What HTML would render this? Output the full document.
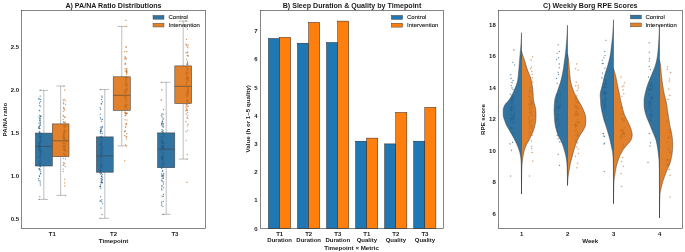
<!DOCTYPE html>
<html><head><meta charset="utf-8"><title>Figure</title>
<style>
html,body{margin:0;padding:0;background:#fff;}
svg{display:block;will-change:transform;font-family:"Liberation Sans",sans-serif;}
.pb,.po{fill-opacity:.8;stroke:#444;stroke-width:.2;stroke-opacity:.55}.pb{fill:#1f77b4}.po{fill:#ff7f0e}
</style></head>
<body>
<svg width="685" height="252" viewBox="0 0 685 252">
<rect width="685" height="252" fill="#fff"/>
<path d="M43.849999999999994 133.1V90.3M43.849999999999994 166.0V199.4M39.55 90.3H48.14999999999999M39.55 199.4H48.14999999999999" stroke="#5a5a5a" stroke-width="0.4" fill="none"/>
<rect x="35.4" y="133.1" width="16.9" height="32.900000000000006" fill="#3274a1" stroke="#3d3d3d" stroke-width="0.55"/>
<path d="M35.4 146.4H52.3" stroke="#3d3d3d" stroke-width="0.55"/>
<path d="M60.65 123.9V86.0M60.65 156.7V195.4M56.35 86.0H64.95M56.35 195.4H64.95" stroke="#5a5a5a" stroke-width="0.4" fill="none"/>
<rect x="52.3" y="123.9" width="16.700000000000003" height="32.79999999999998" fill="#e1812c" stroke="#3d3d3d" stroke-width="0.55"/>
<path d="M52.3 140.8H69.0" stroke="#3d3d3d" stroke-width="0.55"/>
<path d="M104.80000000000001 136.9V89.5M104.80000000000001 172.2V218.3M100.50000000000001 89.5H109.10000000000001M100.50000000000001 218.3H109.10000000000001" stroke="#5a5a5a" stroke-width="0.4" fill="none"/>
<rect x="96.4" y="136.9" width="16.799999999999997" height="35.29999999999998" fill="#3274a1" stroke="#3d3d3d" stroke-width="0.55"/>
<path d="M96.4 155.9H113.2" stroke="#3d3d3d" stroke-width="0.55"/>
<path d="M121.75 76.8V26.4M121.75 110.4V145.9M117.45 26.4H126.05M117.45 145.9H126.05" stroke="#5a5a5a" stroke-width="0.4" fill="none"/>
<rect x="113.2" y="76.8" width="17.10000000000001" height="33.60000000000001" fill="#e1812c" stroke="#3d3d3d" stroke-width="0.55"/>
<path d="M113.2 95.3H130.3" stroke="#3d3d3d" stroke-width="0.55"/>
<path d="M166.2 132.9V82.3M166.2 167.7V214.3M161.89999999999998 82.3H170.5M161.89999999999998 214.3H170.5" stroke="#5a5a5a" stroke-width="0.4" fill="none"/>
<rect x="157.6" y="132.9" width="17.200000000000017" height="34.79999999999998" fill="#3274a1" stroke="#3d3d3d" stroke-width="0.55"/>
<path d="M157.6 149.1H174.8" stroke="#3d3d3d" stroke-width="0.55"/>
<path d="M183.2 65.9V21.1M183.2 103.5V159.1M178.89999999999998 21.1H187.5M178.89999999999998 159.1H187.5" stroke="#5a5a5a" stroke-width="0.4" fill="none"/>
<rect x="174.8" y="65.9" width="16.799999999999983" height="37.599999999999994" fill="#e1812c" stroke="#3d3d3d" stroke-width="0.55"/>
<path d="M174.8 86.3H191.6" stroke="#3d3d3d" stroke-width="0.55"/>
<circle class="pb" cx="39.0" cy="148.0" r=".55"/>
<circle class="pb" cx="40.9" cy="155.3" r=".55"/>
<circle class="pb" cx="40.1" cy="141.3" r=".55"/>
<circle class="pb" cx="39.4" cy="126.3" r=".55"/>
<circle class="pb" cx="41.0" cy="136.9" r=".55"/>
<circle class="pb" cx="39.0" cy="123.8" r=".55"/>
<circle class="pb" cx="39.9" cy="149.4" r=".55"/>
<circle class="pb" cx="38.8" cy="180.6" r=".55"/>
<circle class="pb" cx="41.0" cy="136.0" r=".55"/>
<circle class="pb" cx="40.1" cy="132.9" r=".55"/>
<circle class="pb" cx="40.6" cy="159.9" r=".55"/>
<circle class="pb" cx="39.3" cy="156.7" r=".55"/>
<circle class="pb" cx="40.6" cy="150.5" r=".55"/>
<circle class="pb" cx="40.4" cy="125.3" r=".55"/>
<circle class="pb" cx="40.2" cy="147.3" r=".55"/>
<circle class="pb" cx="41.0" cy="164.9" r=".55"/>
<circle class="pb" cx="39.7" cy="115.2" r=".55"/>
<circle class="pb" cx="39.7" cy="136.8" r=".55"/>
<circle class="pb" cx="40.4" cy="101.6" r=".55"/>
<circle class="pb" cx="40.7" cy="116.5" r=".55"/>
<circle class="pb" cx="39.5" cy="103.1" r=".55"/>
<circle class="pb" cx="40.3" cy="142.2" r=".55"/>
<circle class="pb" cx="39.1" cy="117.1" r=".55"/>
<circle class="pb" cx="40.0" cy="154.6" r=".55"/>
<circle class="pb" cx="40.5" cy="151.8" r=".55"/>
<circle class="pb" cx="38.8" cy="143.4" r=".55"/>
<circle class="pb" cx="40.4" cy="134.8" r=".55"/>
<circle class="pb" cx="38.7" cy="146.8" r=".55"/>
<circle class="pb" cx="41.0" cy="150.7" r=".55"/>
<circle class="pb" cx="39.8" cy="110.7" r=".55"/>
<circle class="pb" cx="39.6" cy="136.3" r=".55"/>
<circle class="pb" cx="40.4" cy="124.1" r=".55"/>
<circle class="pb" cx="39.9" cy="128.3" r=".55"/>
<circle class="pb" cx="40.4" cy="173.8" r=".55"/>
<circle class="pb" cx="38.8" cy="128.3" r=".55"/>
<circle class="pb" cx="40.0" cy="147.2" r=".55"/>
<circle class="pb" cx="40.0" cy="169.5" r=".55"/>
<circle class="pb" cx="41.0" cy="133.8" r=".55"/>
<circle class="pb" cx="38.7" cy="145.3" r=".55"/>
<circle class="pb" cx="39.8" cy="150.7" r=".55"/>
<circle class="pb" cx="40.2" cy="149.5" r=".55"/>
<circle class="pb" cx="40.0" cy="118.1" r=".55"/>
<circle class="pb" cx="38.8" cy="149.8" r=".55"/>
<circle class="pb" cx="40.1" cy="181.1" r=".55"/>
<circle class="pb" cx="39.2" cy="110.3" r=".55"/>
<circle class="pb" cx="39.1" cy="168.9" r=".55"/>
<circle class="pb" cx="40.8" cy="150.9" r=".55"/>
<circle class="pb" cx="39.1" cy="132.3" r=".55"/>
<circle class="pb" cx="39.8" cy="196.7" r=".55"/>
<circle class="pb" cx="40.5" cy="166.6" r=".55"/>
<circle class="pb" cx="40.4" cy="118.7" r=".55"/>
<circle class="pb" cx="40.0" cy="149.8" r=".55"/>
<circle class="pb" cx="40.6" cy="162.0" r=".55"/>
<circle class="pb" cx="39.8" cy="143.4" r=".55"/>
<circle class="pb" cx="40.2" cy="164.6" r=".55"/>
<circle class="pb" cx="40.7" cy="146.4" r=".55"/>
<circle class="pb" cx="40.3" cy="164.2" r=".55"/>
<circle class="pb" cx="40.2" cy="183.0" r=".55"/>
<circle class="pb" cx="39.6" cy="131.5" r=".55"/>
<circle class="pb" cx="40.0" cy="152.9" r=".55"/>
<circle class="pb" cx="39.6" cy="136.7" r=".55"/>
<circle class="pb" cx="40.5" cy="151.1" r=".55"/>
<circle class="pb" cx="39.6" cy="119.0" r=".55"/>
<circle class="pb" cx="39.8" cy="133.9" r=".55"/>
<circle class="pb" cx="40.5" cy="143.2" r=".55"/>
<circle class="pb" cx="39.9" cy="169.9" r=".55"/>
<circle class="pb" cx="39.5" cy="175.9" r=".55"/>
<circle class="pb" cx="40.7" cy="115.7" r=".55"/>
<circle class="pb" cx="39.6" cy="128.6" r=".55"/>
<circle class="pb" cx="40.7" cy="163.7" r=".55"/>
<circle class="pb" cx="40.6" cy="99.4" r=".55"/>
<circle class="pb" cx="39.7" cy="136.7" r=".55"/>
<circle class="pb" cx="40.4" cy="145.6" r=".55"/>
<circle class="pb" cx="38.7" cy="178.6" r=".55"/>
<circle class="pb" cx="39.6" cy="164.8" r=".55"/>
<circle class="pb" cx="40.8" cy="140.0" r=".55"/>
<circle class="pb" cx="40.1" cy="139.0" r=".55"/>
<circle class="pb" cx="40.0" cy="141.9" r=".55"/>
<circle class="pb" cx="40.3" cy="185.1" r=".55"/>
<circle class="pb" cx="40.3" cy="137.5" r=".55"/>
<circle class="pb" cx="40.1" cy="140.6" r=".55"/>
<circle class="pb" cx="39.7" cy="156.6" r=".55"/>
<circle class="pb" cx="39.1" cy="145.0" r=".55"/>
<circle class="pb" cx="39.4" cy="143.2" r=".55"/>
<circle class="pb" cx="39.4" cy="120.8" r=".55"/>
<circle class="pb" cx="39.7" cy="147.7" r=".55"/>
<circle class="pb" cx="41.1" cy="137.2" r=".55"/>
<circle class="pb" cx="39.5" cy="176.4" r=".55"/>
<circle class="pb" cx="39.7" cy="163.9" r=".55"/>
<circle class="pb" cx="39.5" cy="147.4" r=".55"/>
<circle class="pb" cx="40.1" cy="164.3" r=".55"/>
<circle class="pb" cx="41.0" cy="139.7" r=".55"/>
<circle class="pb" cx="40.8" cy="173.6" r=".55"/>
<circle class="pb" cx="39.6" cy="147.8" r=".55"/>
<circle class="pb" cx="39.3" cy="162.2" r=".55"/>
<circle class="pb" cx="40.8" cy="116.5" r=".55"/>
<circle class="pb" cx="39.9" cy="156.4" r=".55"/>
<circle class="pb" cx="40.3" cy="106.8" r=".55"/>
<circle class="pb" cx="38.8" cy="98.4" r=".55"/>
<circle class="pb" cx="40.8" cy="140.6" r=".55"/>
<circle class="pb" cx="39.4" cy="126.0" r=".55"/>
<circle class="pb" cx="39.9" cy="152.0" r=".55"/>
<circle class="pb" cx="39.1" cy="127.7" r=".55"/>
<circle class="pb" cx="39.7" cy="132.8" r=".55"/>
<circle class="pb" cx="40.7" cy="153.0" r=".55"/>
<circle class="pb" cx="40.7" cy="160.0" r=".55"/>
<circle class="pb" cx="39.8" cy="143.7" r=".55"/>
<circle class="pb" cx="40.5" cy="143.0" r=".55"/>
<circle class="pb" cx="39.8" cy="165.1" r=".55"/>
<circle class="pb" cx="39.6" cy="160.6" r=".55"/>
<circle class="pb" cx="40.0" cy="122.8" r=".55"/>
<circle class="pb" cx="39.1" cy="146.0" r=".55"/>
<circle class="pb" cx="39.4" cy="148.8" r=".55"/>
<circle class="pb" cx="40.4" cy="122.3" r=".55"/>
<circle class="pb" cx="40.5" cy="154.3" r=".55"/>
<circle class="pb" cx="38.8" cy="127.1" r=".55"/>
<circle class="pb" cx="40.5" cy="171.7" r=".55"/>
<circle class="pb" cx="40.7" cy="152.7" r=".55"/>
<circle class="pb" cx="39.7" cy="150.2" r=".55"/>
<circle class="pb" cx="38.8" cy="133.6" r=".55"/>
<circle class="pb" cx="40.3" cy="145.1" r=".55"/>
<circle class="pb" cx="39.2" cy="99.3" r=".55"/>
<circle class="pb" cx="40.2" cy="120.4" r=".55"/>
<circle class="pb" cx="39.6" cy="156.8" r=".55"/>
<circle class="pb" cx="40.2" cy="96.1" r=".55"/>
<circle class="pb" cx="39.3" cy="168.6" r=".55"/>
<circle class="pb" cx="39.8" cy="105.4" r=".55"/>
<circle class="pb" cx="39.9" cy="166.4" r=".55"/>
<circle class="pb" cx="40.2" cy="90.3" r=".55"/>
<circle class="pb" cx="39.1" cy="199.4" r=".55"/>
<circle class="po" cx="64.8" cy="185.9" r=".55"/>
<circle class="po" cx="63.7" cy="137.2" r=".55"/>
<circle class="po" cx="63.5" cy="121.9" r=".55"/>
<circle class="po" cx="65.0" cy="139.0" r=".55"/>
<circle class="po" cx="65.1" cy="125.8" r=".55"/>
<circle class="po" cx="64.0" cy="122.5" r=".55"/>
<circle class="po" cx="64.8" cy="139.1" r=".55"/>
<circle class="po" cx="63.3" cy="115.2" r=".55"/>
<circle class="po" cx="64.2" cy="155.3" r=".55"/>
<circle class="po" cx="64.7" cy="138.0" r=".55"/>
<circle class="po" cx="63.9" cy="146.6" r=".55"/>
<circle class="po" cx="64.1" cy="136.1" r=".55"/>
<circle class="po" cx="64.7" cy="122.9" r=".55"/>
<circle class="po" cx="64.7" cy="117.5" r=".55"/>
<circle class="po" cx="63.6" cy="134.8" r=".55"/>
<circle class="po" cx="65.0" cy="127.2" r=".55"/>
<circle class="po" cx="63.4" cy="146.2" r=".55"/>
<circle class="po" cx="65.6" cy="140.4" r=".55"/>
<circle class="po" cx="63.7" cy="107.5" r=".55"/>
<circle class="po" cx="63.9" cy="142.2" r=".55"/>
<circle class="po" cx="63.7" cy="107.9" r=".55"/>
<circle class="po" cx="65.7" cy="125.6" r=".55"/>
<circle class="po" cx="63.9" cy="133.4" r=".55"/>
<circle class="po" cx="64.7" cy="90.1" r=".55"/>
<circle class="po" cx="65.7" cy="142.8" r=".55"/>
<circle class="po" cx="65.6" cy="144.2" r=".55"/>
<circle class="po" cx="63.3" cy="136.7" r=".55"/>
<circle class="po" cx="64.5" cy="130.2" r=".55"/>
<circle class="po" cx="64.7" cy="131.5" r=".55"/>
<circle class="po" cx="65.0" cy="116.8" r=".55"/>
<circle class="po" cx="64.1" cy="134.0" r=".55"/>
<circle class="po" cx="64.0" cy="127.1" r=".55"/>
<circle class="po" cx="63.2" cy="142.8" r=".55"/>
<circle class="po" cx="63.3" cy="111.3" r=".55"/>
<circle class="po" cx="64.6" cy="146.3" r=".55"/>
<circle class="po" cx="63.4" cy="144.0" r=".55"/>
<circle class="po" cx="63.7" cy="137.1" r=".55"/>
<circle class="po" cx="64.1" cy="129.9" r=".55"/>
<circle class="po" cx="63.4" cy="154.0" r=".55"/>
<circle class="po" cx="63.3" cy="100.1" r=".55"/>
<circle class="po" cx="65.5" cy="151.7" r=".55"/>
<circle class="po" cx="64.3" cy="146.5" r=".55"/>
<circle class="po" cx="63.7" cy="147.4" r=".55"/>
<circle class="po" cx="65.0" cy="149.9" r=".55"/>
<circle class="po" cx="63.2" cy="124.7" r=".55"/>
<circle class="po" cx="63.8" cy="134.2" r=".55"/>
<circle class="po" cx="65.6" cy="156.0" r=".55"/>
<circle class="po" cx="65.5" cy="151.0" r=".55"/>
<circle class="po" cx="64.8" cy="145.6" r=".55"/>
<circle class="po" cx="63.5" cy="103.8" r=".55"/>
<circle class="po" cx="64.0" cy="153.6" r=".55"/>
<circle class="po" cx="63.3" cy="169.0" r=".55"/>
<circle class="po" cx="63.8" cy="165.1" r=".55"/>
<circle class="po" cx="63.3" cy="146.2" r=".55"/>
<circle class="po" cx="63.5" cy="102.7" r=".55"/>
<circle class="po" cx="64.8" cy="163.5" r=".55"/>
<circle class="po" cx="63.5" cy="137.0" r=".55"/>
<circle class="po" cx="63.6" cy="149.7" r=".55"/>
<circle class="po" cx="65.5" cy="104.3" r=".55"/>
<circle class="po" cx="64.1" cy="109.1" r=".55"/>
<circle class="po" cx="64.1" cy="125.1" r=".55"/>
<circle class="po" cx="63.4" cy="171.5" r=".55"/>
<circle class="po" cx="65.2" cy="131.5" r=".55"/>
<circle class="po" cx="64.9" cy="147.1" r=".55"/>
<circle class="po" cx="64.6" cy="183.0" r=".55"/>
<circle class="po" cx="64.8" cy="179.3" r=".55"/>
<circle class="po" cx="63.5" cy="138.0" r=".55"/>
<circle class="po" cx="63.9" cy="134.7" r=".55"/>
<circle class="po" cx="64.7" cy="109.9" r=".55"/>
<circle class="po" cx="65.6" cy="123.7" r=".55"/>
<circle class="po" cx="65.3" cy="150.9" r=".55"/>
<circle class="po" cx="64.8" cy="150.2" r=".55"/>
<circle class="po" cx="64.5" cy="143.2" r=".55"/>
<circle class="po" cx="63.3" cy="164.7" r=".55"/>
<circle class="po" cx="65.4" cy="121.8" r=".55"/>
<circle class="po" cx="63.4" cy="139.2" r=".55"/>
<circle class="po" cx="63.5" cy="158.3" r=".55"/>
<circle class="po" cx="65.0" cy="154.7" r=".55"/>
<circle class="po" cx="65.3" cy="166.6" r=".55"/>
<circle class="po" cx="65.2" cy="150.2" r=".55"/>
<circle class="po" cx="64.4" cy="133.0" r=".55"/>
<circle class="po" cx="63.7" cy="149.3" r=".55"/>
<circle class="po" cx="63.3" cy="116.2" r=".55"/>
<circle class="po" cx="65.3" cy="100.7" r=".55"/>
<circle class="po" cx="65.7" cy="154.7" r=".55"/>
<circle class="po" cx="63.8" cy="139.2" r=".55"/>
<circle class="po" cx="65.4" cy="148.0" r=".55"/>
<circle class="po" cx="64.2" cy="99.3" r=".55"/>
<circle class="po" cx="64.0" cy="131.7" r=".55"/>
<circle class="po" cx="64.5" cy="126.0" r=".55"/>
<circle class="po" cx="63.2" cy="119.6" r=".55"/>
<circle class="po" cx="64.3" cy="132.4" r=".55"/>
<circle class="po" cx="63.7" cy="162.4" r=".55"/>
<circle class="po" cx="65.0" cy="149.8" r=".55"/>
<circle class="po" cx="64.5" cy="125.9" r=".55"/>
<circle class="po" cx="65.4" cy="140.2" r=".55"/>
<circle class="po" cx="65.5" cy="158.9" r=".55"/>
<circle class="po" cx="64.0" cy="137.5" r=".55"/>
<circle class="po" cx="63.9" cy="86.0" r=".55"/>
<circle class="po" cx="65.6" cy="195.4" r=".55"/>
<circle class="pb" cx="101.3" cy="156.2" r=".55"/>
<circle class="pb" cx="101.7" cy="168.0" r=".55"/>
<circle class="pb" cx="101.5" cy="141.6" r=".55"/>
<circle class="pb" cx="101.6" cy="99.4" r=".55"/>
<circle class="pb" cx="100.9" cy="178.8" r=".55"/>
<circle class="pb" cx="101.6" cy="173.5" r=".55"/>
<circle class="pb" cx="100.8" cy="159.1" r=".55"/>
<circle class="pb" cx="101.5" cy="157.0" r=".55"/>
<circle class="pb" cx="101.1" cy="182.3" r=".55"/>
<circle class="pb" cx="101.4" cy="143.3" r=".55"/>
<circle class="pb" cx="100.0" cy="136.8" r=".55"/>
<circle class="pb" cx="101.2" cy="150.3" r=".55"/>
<circle class="pb" cx="100.5" cy="186.3" r=".55"/>
<circle class="pb" cx="100.9" cy="119.0" r=".55"/>
<circle class="pb" cx="100.1" cy="186.4" r=".55"/>
<circle class="pb" cx="101.6" cy="138.5" r=".55"/>
<circle class="pb" cx="102.2" cy="126.4" r=".55"/>
<circle class="pb" cx="100.8" cy="188.2" r=".55"/>
<circle class="pb" cx="100.2" cy="152.7" r=".55"/>
<circle class="pb" cx="101.5" cy="121.2" r=".55"/>
<circle class="pb" cx="100.3" cy="145.8" r=".55"/>
<circle class="pb" cx="102.2" cy="179.6" r=".55"/>
<circle class="pb" cx="100.3" cy="186.4" r=".55"/>
<circle class="pb" cx="100.9" cy="144.1" r=".55"/>
<circle class="pb" cx="101.2" cy="165.8" r=".55"/>
<circle class="pb" cx="100.2" cy="173.9" r=".55"/>
<circle class="pb" cx="100.7" cy="138.4" r=".55"/>
<circle class="pb" cx="100.6" cy="164.5" r=".55"/>
<circle class="pb" cx="101.7" cy="154.4" r=".55"/>
<circle class="pb" cx="102.4" cy="141.2" r=".55"/>
<circle class="pb" cx="100.9" cy="142.4" r=".55"/>
<circle class="pb" cx="101.9" cy="157.0" r=".55"/>
<circle class="pb" cx="100.3" cy="156.0" r=".55"/>
<circle class="pb" cx="101.4" cy="140.4" r=".55"/>
<circle class="pb" cx="101.0" cy="144.1" r=".55"/>
<circle class="pb" cx="100.7" cy="184.3" r=".55"/>
<circle class="pb" cx="102.0" cy="160.8" r=".55"/>
<circle class="pb" cx="101.8" cy="178.4" r=".55"/>
<circle class="pb" cx="100.3" cy="186.7" r=".55"/>
<circle class="pb" cx="100.7" cy="170.6" r=".55"/>
<circle class="pb" cx="102.0" cy="214.6" r=".55"/>
<circle class="pb" cx="102.4" cy="133.6" r=".55"/>
<circle class="pb" cx="101.5" cy="176.4" r=".55"/>
<circle class="pb" cx="102.1" cy="146.9" r=".55"/>
<circle class="pb" cx="102.4" cy="203.8" r=".55"/>
<circle class="pb" cx="101.8" cy="199.7" r=".55"/>
<circle class="pb" cx="101.6" cy="104.1" r=".55"/>
<circle class="pb" cx="100.5" cy="129.9" r=".55"/>
<circle class="pb" cx="100.9" cy="172.6" r=".55"/>
<circle class="pb" cx="101.5" cy="175.9" r=".55"/>
<circle class="pb" cx="102.3" cy="174.5" r=".55"/>
<circle class="pb" cx="100.7" cy="153.4" r=".55"/>
<circle class="pb" cx="100.9" cy="167.1" r=".55"/>
<circle class="pb" cx="100.0" cy="172.3" r=".55"/>
<circle class="pb" cx="101.7" cy="153.2" r=".55"/>
<circle class="pb" cx="101.1" cy="182.1" r=".55"/>
<circle class="pb" cx="101.9" cy="96.1" r=".55"/>
<circle class="pb" cx="100.5" cy="171.8" r=".55"/>
<circle class="pb" cx="101.6" cy="128.2" r=".55"/>
<circle class="pb" cx="101.6" cy="180.3" r=".55"/>
<circle class="pb" cx="101.1" cy="149.2" r=".55"/>
<circle class="pb" cx="100.4" cy="132.0" r=".55"/>
<circle class="pb" cx="101.0" cy="165.0" r=".55"/>
<circle class="pb" cx="101.8" cy="131.4" r=".55"/>
<circle class="pb" cx="100.4" cy="131.4" r=".55"/>
<circle class="pb" cx="100.2" cy="114.2" r=".55"/>
<circle class="pb" cx="101.1" cy="154.5" r=".55"/>
<circle class="pb" cx="100.5" cy="168.2" r=".55"/>
<circle class="pb" cx="102.0" cy="182.0" r=".55"/>
<circle class="pb" cx="102.0" cy="151.5" r=".55"/>
<circle class="pb" cx="102.3" cy="182.6" r=".55"/>
<circle class="pb" cx="102.0" cy="155.7" r=".55"/>
<circle class="pb" cx="101.6" cy="152.8" r=".55"/>
<circle class="pb" cx="100.4" cy="170.2" r=".55"/>
<circle class="pb" cx="102.0" cy="182.9" r=".55"/>
<circle class="pb" cx="101.8" cy="146.3" r=".55"/>
<circle class="pb" cx="101.8" cy="148.9" r=".55"/>
<circle class="pb" cx="101.7" cy="151.0" r=".55"/>
<circle class="pb" cx="102.0" cy="157.4" r=".55"/>
<circle class="pb" cx="100.7" cy="131.7" r=".55"/>
<circle class="pb" cx="101.6" cy="182.1" r=".55"/>
<circle class="pb" cx="101.2" cy="144.8" r=".55"/>
<circle class="pb" cx="100.8" cy="167.3" r=".55"/>
<circle class="pb" cx="100.8" cy="133.6" r=".55"/>
<circle class="pb" cx="100.3" cy="164.6" r=".55"/>
<circle class="pb" cx="101.2" cy="165.5" r=".55"/>
<circle class="pb" cx="100.9" cy="144.2" r=".55"/>
<circle class="pb" cx="101.0" cy="208.1" r=".55"/>
<circle class="pb" cx="102.1" cy="164.9" r=".55"/>
<circle class="pb" cx="101.7" cy="201.7" r=".55"/>
<circle class="pb" cx="101.7" cy="180.3" r=".55"/>
<circle class="pb" cx="102.4" cy="137.9" r=".55"/>
<circle class="pb" cx="100.5" cy="145.2" r=".55"/>
<circle class="pb" cx="101.2" cy="166.6" r=".55"/>
<circle class="pb" cx="100.2" cy="156.8" r=".55"/>
<circle class="pb" cx="100.9" cy="156.5" r=".55"/>
<circle class="pb" cx="102.3" cy="147.7" r=".55"/>
<circle class="pb" cx="100.2" cy="107.9" r=".55"/>
<circle class="pb" cx="101.8" cy="149.3" r=".55"/>
<circle class="pb" cx="102.1" cy="97.2" r=".55"/>
<circle class="pb" cx="101.2" cy="164.9" r=".55"/>
<circle class="pb" cx="101.9" cy="136.2" r=".55"/>
<circle class="pb" cx="101.1" cy="136.5" r=".55"/>
<circle class="pb" cx="100.8" cy="149.5" r=".55"/>
<circle class="pb" cx="101.2" cy="162.4" r=".55"/>
<circle class="pb" cx="100.4" cy="117.8" r=".55"/>
<circle class="pb" cx="100.7" cy="109.5" r=".55"/>
<circle class="pb" cx="100.7" cy="127.3" r=".55"/>
<circle class="pb" cx="102.4" cy="101.8" r=".55"/>
<circle class="pb" cx="100.8" cy="129.9" r=".55"/>
<circle class="pb" cx="100.5" cy="196.8" r=".55"/>
<circle class="pb" cx="102.3" cy="127.6" r=".55"/>
<circle class="pb" cx="100.3" cy="172.3" r=".55"/>
<circle class="pb" cx="102.4" cy="119.4" r=".55"/>
<circle class="pb" cx="102.1" cy="163.0" r=".55"/>
<circle class="pb" cx="101.6" cy="146.9" r=".55"/>
<circle class="pb" cx="101.0" cy="153.7" r=".55"/>
<circle class="pb" cx="100.4" cy="170.1" r=".55"/>
<circle class="pb" cx="100.2" cy="201.1" r=".55"/>
<circle class="pb" cx="100.2" cy="160.3" r=".55"/>
<circle class="pb" cx="100.8" cy="158.5" r=".55"/>
<circle class="pb" cx="101.0" cy="129.8" r=".55"/>
<circle class="pb" cx="102.3" cy="170.5" r=".55"/>
<circle class="pb" cx="101.3" cy="148.8" r=".55"/>
<circle class="pb" cx="102.4" cy="177.0" r=".55"/>
<circle class="pb" cx="101.8" cy="154.1" r=".55"/>
<circle class="pb" cx="100.3" cy="200.7" r=".55"/>
<circle class="pb" cx="101.3" cy="103.4" r=".55"/>
<circle class="pb" cx="100.3" cy="89.5" r=".55"/>
<circle class="pb" cx="100.0" cy="218.3" r=".55"/>
<circle class="po" cx="126.7" cy="109.6" r=".55"/>
<circle class="po" cx="126.5" cy="80.0" r=".55"/>
<circle class="po" cx="125.4" cy="84.4" r=".55"/>
<circle class="po" cx="126.7" cy="51.6" r=".55"/>
<circle class="po" cx="126.9" cy="83.5" r=".55"/>
<circle class="po" cx="126.1" cy="59.0" r=".55"/>
<circle class="po" cx="125.4" cy="90.8" r=".55"/>
<circle class="po" cx="126.8" cy="70.6" r=".55"/>
<circle class="po" cx="126.9" cy="97.0" r=".55"/>
<circle class="po" cx="125.4" cy="105.7" r=".55"/>
<circle class="po" cx="124.8" cy="59.1" r=".55"/>
<circle class="po" cx="126.7" cy="74.2" r=".55"/>
<circle class="po" cx="126.2" cy="71.0" r=".55"/>
<circle class="po" cx="125.1" cy="113.0" r=".55"/>
<circle class="po" cx="126.0" cy="136.9" r=".55"/>
<circle class="po" cx="125.3" cy="115.6" r=".55"/>
<circle class="po" cx="126.8" cy="85.8" r=".55"/>
<circle class="po" cx="125.4" cy="130.9" r=".55"/>
<circle class="po" cx="125.0" cy="56.8" r=".55"/>
<circle class="po" cx="124.7" cy="131.8" r=".55"/>
<circle class="po" cx="125.4" cy="78.1" r=".55"/>
<circle class="po" cx="127.0" cy="133.7" r=".55"/>
<circle class="po" cx="125.1" cy="68.8" r=".55"/>
<circle class="po" cx="125.7" cy="98.7" r=".55"/>
<circle class="po" cx="127.0" cy="89.1" r=".55"/>
<circle class="po" cx="124.6" cy="97.0" r=".55"/>
<circle class="po" cx="125.3" cy="57.5" r=".55"/>
<circle class="po" cx="126.6" cy="77.5" r=".55"/>
<circle class="po" cx="124.8" cy="106.1" r=".55"/>
<circle class="po" cx="126.9" cy="100.0" r=".55"/>
<circle class="po" cx="126.6" cy="124.3" r=".55"/>
<circle class="po" cx="124.9" cy="96.4" r=".55"/>
<circle class="po" cx="126.0" cy="76.6" r=".55"/>
<circle class="po" cx="125.9" cy="100.9" r=".55"/>
<circle class="po" cx="126.3" cy="46.8" r=".55"/>
<circle class="po" cx="125.3" cy="63.3" r=".55"/>
<circle class="po" cx="125.5" cy="127.5" r=".55"/>
<circle class="po" cx="125.2" cy="71.0" r=".55"/>
<circle class="po" cx="125.3" cy="107.7" r=".55"/>
<circle class="po" cx="125.0" cy="92.9" r=".55"/>
<circle class="po" cx="126.8" cy="68.5" r=".55"/>
<circle class="po" cx="126.8" cy="85.8" r=".55"/>
<circle class="po" cx="125.5" cy="81.7" r=".55"/>
<circle class="po" cx="126.3" cy="82.3" r=".55"/>
<circle class="po" cx="125.8" cy="113.2" r=".55"/>
<circle class="po" cx="125.3" cy="110.7" r=".55"/>
<circle class="po" cx="125.4" cy="80.1" r=".55"/>
<circle class="po" cx="127.0" cy="71.9" r=".55"/>
<circle class="po" cx="125.4" cy="101.5" r=".55"/>
<circle class="po" cx="126.0" cy="92.0" r=".55"/>
<circle class="po" cx="126.9" cy="120.0" r=".55"/>
<circle class="po" cx="125.3" cy="115.4" r=".55"/>
<circle class="po" cx="126.6" cy="93.6" r=".55"/>
<circle class="po" cx="124.8" cy="90.2" r=".55"/>
<circle class="po" cx="126.4" cy="73.1" r=".55"/>
<circle class="po" cx="126.6" cy="71.9" r=".55"/>
<circle class="po" cx="126.6" cy="69.5" r=".55"/>
<circle class="po" cx="127.0" cy="84.6" r=".55"/>
<circle class="po" cx="126.3" cy="83.8" r=".55"/>
<circle class="po" cx="127.0" cy="113.0" r=".55"/>
<circle class="po" cx="125.2" cy="84.5" r=".55"/>
<circle class="po" cx="125.9" cy="89.5" r=".55"/>
<circle class="po" cx="125.1" cy="64.1" r=".55"/>
<circle class="po" cx="124.8" cy="135.4" r=".55"/>
<circle class="po" cx="125.6" cy="107.1" r=".55"/>
<circle class="po" cx="126.3" cy="139.0" r=".55"/>
<circle class="po" cx="126.5" cy="114.3" r=".55"/>
<circle class="po" cx="124.6" cy="131.5" r=".55"/>
<circle class="po" cx="126.9" cy="88.3" r=".55"/>
<circle class="po" cx="125.2" cy="112.3" r=".55"/>
<circle class="po" cx="125.3" cy="64.0" r=".55"/>
<circle class="po" cx="126.6" cy="123.7" r=".55"/>
<circle class="po" cx="126.8" cy="136.7" r=".55"/>
<circle class="po" cx="126.4" cy="104.9" r=".55"/>
<circle class="po" cx="125.4" cy="113.5" r=".55"/>
<circle class="po" cx="125.7" cy="126.3" r=".55"/>
<circle class="po" cx="126.6" cy="77.8" r=".55"/>
<circle class="po" cx="125.4" cy="104.8" r=".55"/>
<circle class="po" cx="126.6" cy="72.3" r=".55"/>
<circle class="po" cx="126.5" cy="77.2" r=".55"/>
<circle class="po" cx="125.7" cy="78.7" r=".55"/>
<circle class="po" cx="126.8" cy="90.8" r=".55"/>
<circle class="po" cx="125.5" cy="98.2" r=".55"/>
<circle class="po" cx="126.4" cy="106.0" r=".55"/>
<circle class="po" cx="126.1" cy="58.3" r=".55"/>
<circle class="po" cx="125.4" cy="144.9" r=".55"/>
<circle class="po" cx="125.9" cy="123.9" r=".55"/>
<circle class="po" cx="126.1" cy="113.0" r=".55"/>
<circle class="po" cx="125.9" cy="85.3" r=".55"/>
<circle class="po" cx="124.8" cy="92.2" r=".55"/>
<circle class="po" cx="127.0" cy="108.4" r=".55"/>
<circle class="po" cx="127.0" cy="104.9" r=".55"/>
<circle class="po" cx="124.6" cy="51.6" r=".55"/>
<circle class="po" cx="126.9" cy="113.3" r=".55"/>
<circle class="po" cx="125.9" cy="47.3" r=".55"/>
<circle class="po" cx="124.9" cy="119.8" r=".55"/>
<circle class="po" cx="126.6" cy="103.9" r=".55"/>
<circle class="po" cx="125.6" cy="91.6" r=".55"/>
<circle class="po" cx="126.3" cy="26.4" r=".55"/>
<circle class="po" cx="126.6" cy="145.9" r=".55"/>
<circle class="po" cx="125.9" cy="20.4" r=".55"/>
<circle class="po" cx="124.7" cy="160.7" r=".55"/>
<circle class="pb" cx="163.0" cy="157.6" r=".55"/>
<circle class="pb" cx="163.0" cy="118.0" r=".55"/>
<circle class="pb" cx="163.8" cy="164.9" r=".55"/>
<circle class="pb" cx="161.3" cy="145.1" r=".55"/>
<circle class="pb" cx="162.9" cy="132.9" r=".55"/>
<circle class="pb" cx="163.1" cy="114.5" r=".55"/>
<circle class="pb" cx="163.2" cy="119.2" r=".55"/>
<circle class="pb" cx="163.1" cy="159.0" r=".55"/>
<circle class="pb" cx="161.5" cy="124.9" r=".55"/>
<circle class="pb" cx="161.5" cy="151.4" r=".55"/>
<circle class="pb" cx="163.2" cy="177.1" r=".55"/>
<circle class="pb" cx="162.8" cy="176.3" r=".55"/>
<circle class="pb" cx="161.9" cy="189.9" r=".55"/>
<circle class="pb" cx="161.3" cy="142.1" r=".55"/>
<circle class="pb" cx="162.6" cy="121.7" r=".55"/>
<circle class="pb" cx="161.5" cy="176.0" r=".55"/>
<circle class="pb" cx="163.2" cy="157.7" r=".55"/>
<circle class="pb" cx="162.1" cy="178.7" r=".55"/>
<circle class="pb" cx="163.3" cy="150.0" r=".55"/>
<circle class="pb" cx="161.5" cy="180.5" r=".55"/>
<circle class="pb" cx="162.5" cy="171.5" r=".55"/>
<circle class="pb" cx="161.5" cy="168.2" r=".55"/>
<circle class="pb" cx="163.2" cy="162.7" r=".55"/>
<circle class="pb" cx="162.7" cy="160.0" r=".55"/>
<circle class="pb" cx="161.9" cy="155.7" r=".55"/>
<circle class="pb" cx="163.7" cy="155.5" r=".55"/>
<circle class="pb" cx="163.0" cy="175.2" r=".55"/>
<circle class="pb" cx="162.1" cy="136.5" r=".55"/>
<circle class="pb" cx="163.4" cy="194.4" r=".55"/>
<circle class="pb" cx="162.2" cy="147.0" r=".55"/>
<circle class="pb" cx="163.6" cy="175.1" r=".55"/>
<circle class="pb" cx="162.0" cy="147.4" r=".55"/>
<circle class="pb" cx="163.7" cy="143.3" r=".55"/>
<circle class="pb" cx="161.4" cy="202.1" r=".55"/>
<circle class="pb" cx="163.1" cy="141.7" r=".55"/>
<circle class="pb" cx="162.0" cy="116.8" r=".55"/>
<circle class="pb" cx="162.3" cy="131.3" r=".55"/>
<circle class="pb" cx="162.9" cy="141.5" r=".55"/>
<circle class="pb" cx="161.4" cy="205.3" r=".55"/>
<circle class="pb" cx="161.8" cy="155.0" r=".55"/>
<circle class="pb" cx="161.5" cy="173.8" r=".55"/>
<circle class="pb" cx="163.1" cy="123.9" r=".55"/>
<circle class="pb" cx="161.8" cy="158.8" r=".55"/>
<circle class="pb" cx="162.5" cy="167.0" r=".55"/>
<circle class="pb" cx="162.1" cy="196.1" r=".55"/>
<circle class="pb" cx="161.9" cy="131.8" r=".55"/>
<circle class="pb" cx="163.6" cy="165.3" r=".55"/>
<circle class="pb" cx="162.5" cy="157.5" r=".55"/>
<circle class="pb" cx="162.9" cy="123.4" r=".55"/>
<circle class="pb" cx="163.0" cy="149.2" r=".55"/>
<circle class="pb" cx="163.3" cy="142.9" r=".55"/>
<circle class="pb" cx="161.9" cy="89.8" r=".55"/>
<circle class="pb" cx="161.5" cy="165.1" r=".55"/>
<circle class="pb" cx="162.4" cy="163.6" r=".55"/>
<circle class="pb" cx="161.7" cy="138.4" r=".55"/>
<circle class="pb" cx="161.3" cy="115.2" r=".55"/>
<circle class="pb" cx="163.6" cy="187.8" r=".55"/>
<circle class="pb" cx="162.8" cy="156.6" r=".55"/>
<circle class="pb" cx="162.3" cy="175.9" r=".55"/>
<circle class="pb" cx="161.6" cy="186.1" r=".55"/>
<circle class="pb" cx="163.2" cy="136.3" r=".55"/>
<circle class="pb" cx="162.6" cy="170.6" r=".55"/>
<circle class="pb" cx="161.7" cy="143.5" r=".55"/>
<circle class="pb" cx="163.7" cy="148.1" r=".55"/>
<circle class="pb" cx="163.7" cy="147.5" r=".55"/>
<circle class="pb" cx="163.6" cy="149.7" r=".55"/>
<circle class="pb" cx="163.3" cy="178.4" r=".55"/>
<circle class="pb" cx="162.6" cy="152.9" r=".55"/>
<circle class="pb" cx="162.0" cy="145.7" r=".55"/>
<circle class="pb" cx="162.9" cy="142.6" r=".55"/>
<circle class="pb" cx="161.7" cy="158.5" r=".55"/>
<circle class="pb" cx="162.8" cy="126.6" r=".55"/>
<circle class="pb" cx="161.4" cy="136.7" r=".55"/>
<circle class="pb" cx="161.3" cy="148.4" r=".55"/>
<circle class="pb" cx="163.1" cy="135.1" r=".55"/>
<circle class="pb" cx="162.1" cy="146.6" r=".55"/>
<circle class="pb" cx="163.0" cy="134.0" r=".55"/>
<circle class="pb" cx="163.2" cy="201.4" r=".55"/>
<circle class="pb" cx="163.4" cy="184.0" r=".55"/>
<circle class="pb" cx="162.8" cy="161.3" r=".55"/>
<circle class="pb" cx="163.4" cy="148.3" r=".55"/>
<circle class="pb" cx="162.9" cy="206.2" r=".55"/>
<circle class="pb" cx="163.6" cy="158.0" r=".55"/>
<circle class="pb" cx="163.5" cy="147.5" r=".55"/>
<circle class="pb" cx="161.4" cy="157.5" r=".55"/>
<circle class="pb" cx="161.9" cy="157.6" r=".55"/>
<circle class="pb" cx="162.3" cy="186.1" r=".55"/>
<circle class="pb" cx="161.9" cy="149.2" r=".55"/>
<circle class="pb" cx="161.7" cy="203.8" r=".55"/>
<circle class="pb" cx="163.5" cy="127.0" r=".55"/>
<circle class="pb" cx="161.3" cy="167.6" r=".55"/>
<circle class="pb" cx="161.7" cy="123.9" r=".55"/>
<circle class="pb" cx="163.2" cy="196.5" r=".55"/>
<circle class="pb" cx="161.8" cy="141.2" r=".55"/>
<circle class="pb" cx="161.9" cy="148.2" r=".55"/>
<circle class="pb" cx="163.7" cy="173.5" r=".55"/>
<circle class="pb" cx="163.2" cy="182.1" r=".55"/>
<circle class="pb" cx="162.4" cy="121.0" r=".55"/>
<circle class="pb" cx="161.6" cy="140.8" r=".55"/>
<circle class="pb" cx="162.0" cy="113.7" r=".55"/>
<circle class="pb" cx="163.7" cy="153.2" r=".55"/>
<circle class="pb" cx="163.3" cy="147.1" r=".55"/>
<circle class="pb" cx="161.5" cy="140.7" r=".55"/>
<circle class="pb" cx="163.0" cy="132.1" r=".55"/>
<circle class="pb" cx="162.2" cy="139.8" r=".55"/>
<circle class="pb" cx="163.1" cy="130.5" r=".55"/>
<circle class="pb" cx="162.0" cy="163.3" r=".55"/>
<circle class="pb" cx="161.6" cy="188.8" r=".55"/>
<circle class="pb" cx="161.3" cy="99.9" r=".55"/>
<circle class="pb" cx="162.0" cy="146.7" r=".55"/>
<circle class="pb" cx="163.4" cy="138.9" r=".55"/>
<circle class="pb" cx="163.5" cy="162.4" r=".55"/>
<circle class="pb" cx="163.0" cy="125.2" r=".55"/>
<circle class="pb" cx="163.1" cy="145.9" r=".55"/>
<circle class="pb" cx="161.8" cy="122.9" r=".55"/>
<circle class="pb" cx="162.2" cy="167.7" r=".55"/>
<circle class="pb" cx="163.5" cy="152.3" r=".55"/>
<circle class="pb" cx="163.7" cy="145.5" r=".55"/>
<circle class="pb" cx="162.4" cy="159.2" r=".55"/>
<circle class="pb" cx="163.2" cy="143.3" r=".55"/>
<circle class="pb" cx="163.6" cy="109.6" r=".55"/>
<circle class="pb" cx="163.8" cy="165.1" r=".55"/>
<circle class="pb" cx="162.0" cy="157.1" r=".55"/>
<circle class="pb" cx="162.9" cy="145.7" r=".55"/>
<circle class="pb" cx="162.3" cy="175.1" r=".55"/>
<circle class="pb" cx="162.4" cy="181.1" r=".55"/>
<circle class="pb" cx="162.4" cy="121.5" r=".55"/>
<circle class="pb" cx="162.0" cy="129.6" r=".55"/>
<circle class="pb" cx="161.3" cy="82.3" r=".55"/>
<circle class="pb" cx="163.2" cy="214.3" r=".55"/>
<circle class="po" cx="187.2" cy="52.9" r=".55"/>
<circle class="po" cx="186.5" cy="45.3" r=".55"/>
<circle class="po" cx="187.0" cy="76.4" r=".55"/>
<circle class="po" cx="188.0" cy="44.9" r=".55"/>
<circle class="po" cx="187.5" cy="110.5" r=".55"/>
<circle class="po" cx="187.0" cy="117.6" r=".55"/>
<circle class="po" cx="186.6" cy="110.0" r=".55"/>
<circle class="po" cx="187.9" cy="69.0" r=".55"/>
<circle class="po" cx="187.5" cy="61.2" r=".55"/>
<circle class="po" cx="187.0" cy="68.9" r=".55"/>
<circle class="po" cx="188.1" cy="80.6" r=".55"/>
<circle class="po" cx="187.6" cy="112.5" r=".55"/>
<circle class="po" cx="188.3" cy="102.5" r=".55"/>
<circle class="po" cx="187.5" cy="101.9" r=".55"/>
<circle class="po" cx="188.1" cy="91.4" r=".55"/>
<circle class="po" cx="187.3" cy="103.9" r=".55"/>
<circle class="po" cx="187.7" cy="125.8" r=".55"/>
<circle class="po" cx="188.0" cy="55.8" r=".55"/>
<circle class="po" cx="186.1" cy="72.8" r=".55"/>
<circle class="po" cx="187.1" cy="46.8" r=".55"/>
<circle class="po" cx="187.4" cy="130.6" r=".55"/>
<circle class="po" cx="186.0" cy="121.6" r=".55"/>
<circle class="po" cx="187.9" cy="106.5" r=".55"/>
<circle class="po" cx="187.7" cy="52.1" r=".55"/>
<circle class="po" cx="188.2" cy="90.3" r=".55"/>
<circle class="po" cx="186.8" cy="79.0" r=".55"/>
<circle class="po" cx="187.1" cy="87.8" r=".55"/>
<circle class="po" cx="188.2" cy="80.3" r=".55"/>
<circle class="po" cx="186.9" cy="100.0" r=".55"/>
<circle class="po" cx="188.0" cy="74.5" r=".55"/>
<circle class="po" cx="186.9" cy="109.3" r=".55"/>
<circle class="po" cx="186.7" cy="92.2" r=".55"/>
<circle class="po" cx="186.6" cy="77.3" r=".55"/>
<circle class="po" cx="186.4" cy="82.4" r=".55"/>
<circle class="po" cx="187.0" cy="73.2" r=".55"/>
<circle class="po" cx="186.3" cy="108.2" r=".55"/>
<circle class="po" cx="187.9" cy="77.9" r=".55"/>
<circle class="po" cx="188.3" cy="93.7" r=".55"/>
<circle class="po" cx="186.1" cy="74.6" r=".55"/>
<circle class="po" cx="186.0" cy="44.1" r=".55"/>
<circle class="po" cx="185.9" cy="110.7" r=".55"/>
<circle class="po" cx="188.2" cy="56.0" r=".55"/>
<circle class="po" cx="186.1" cy="104.4" r=".55"/>
<circle class="po" cx="187.6" cy="97.2" r=".55"/>
<circle class="po" cx="186.6" cy="39.4" r=".55"/>
<circle class="po" cx="186.4" cy="59.2" r=".55"/>
<circle class="po" cx="186.5" cy="71.2" r=".55"/>
<circle class="po" cx="187.6" cy="62.6" r=".55"/>
<circle class="po" cx="185.9" cy="52.6" r=".55"/>
<circle class="po" cx="188.0" cy="106.1" r=".55"/>
<circle class="po" cx="187.3" cy="78.8" r=".55"/>
<circle class="po" cx="186.5" cy="96.2" r=".55"/>
<circle class="po" cx="186.4" cy="73.5" r=".55"/>
<circle class="po" cx="187.5" cy="94.0" r=".55"/>
<circle class="po" cx="187.5" cy="64.6" r=".55"/>
<circle class="po" cx="186.7" cy="84.8" r=".55"/>
<circle class="po" cx="186.7" cy="101.7" r=".55"/>
<circle class="po" cx="187.0" cy="86.8" r=".55"/>
<circle class="po" cx="188.2" cy="72.8" r=".55"/>
<circle class="po" cx="187.2" cy="55.2" r=".55"/>
<circle class="po" cx="188.0" cy="90.2" r=".55"/>
<circle class="po" cx="187.5" cy="95.1" r=".55"/>
<circle class="po" cx="187.3" cy="78.3" r=".55"/>
<circle class="po" cx="187.1" cy="64.1" r=".55"/>
<circle class="po" cx="187.6" cy="100.6" r=".55"/>
<circle class="po" cx="187.1" cy="154.6" r=".55"/>
<circle class="po" cx="187.7" cy="77.1" r=".55"/>
<circle class="po" cx="186.3" cy="94.9" r=".55"/>
<circle class="po" cx="186.7" cy="96.0" r=".55"/>
<circle class="po" cx="188.1" cy="88.9" r=".55"/>
<circle class="po" cx="186.9" cy="65.8" r=".55"/>
<circle class="po" cx="188.0" cy="124.1" r=".55"/>
<circle class="po" cx="188.2" cy="78.4" r=".55"/>
<circle class="po" cx="187.3" cy="63.8" r=".55"/>
<circle class="po" cx="186.1" cy="79.4" r=".55"/>
<circle class="po" cx="187.8" cy="90.1" r=".55"/>
<circle class="po" cx="187.5" cy="69.9" r=".55"/>
<circle class="po" cx="186.6" cy="84.0" r=".55"/>
<circle class="po" cx="188.0" cy="47.8" r=".55"/>
<circle class="po" cx="187.1" cy="79.2" r=".55"/>
<circle class="po" cx="186.0" cy="107.1" r=".55"/>
<circle class="po" cx="186.0" cy="140.3" r=".55"/>
<circle class="po" cx="186.5" cy="105.2" r=".55"/>
<circle class="po" cx="187.4" cy="93.1" r=".55"/>
<circle class="po" cx="187.9" cy="118.5" r=".55"/>
<circle class="po" cx="186.1" cy="113.9" r=".55"/>
<circle class="po" cx="185.9" cy="131.8" r=".55"/>
<circle class="po" cx="187.4" cy="115.7" r=".55"/>
<circle class="po" cx="186.9" cy="82.2" r=".55"/>
<circle class="po" cx="187.0" cy="92.7" r=".55"/>
<circle class="po" cx="187.9" cy="90.5" r=".55"/>
<circle class="po" cx="188.2" cy="93.9" r=".55"/>
<circle class="po" cx="188.3" cy="91.1" r=".55"/>
<circle class="po" cx="187.8" cy="63.7" r=".55"/>
<circle class="po" cx="185.9" cy="26.9" r=".55"/>
<circle class="po" cx="186.3" cy="66.8" r=".55"/>
<circle class="po" cx="187.3" cy="29.1" r=".55"/>
<circle class="po" cx="188.3" cy="87.4" r=".55"/>
<circle class="po" cx="186.1" cy="21.1" r=".55"/>
<circle class="po" cx="187.2" cy="159.1" r=".55"/>
<circle class="po" cx="186.9" cy="182.4" r=".55"/>
<rect x="21.5" y="10.5" width="184.0" height="218.0" fill="none" stroke="#333" stroke-width="0.6"/>
<text x="19.0" y="220.75" font-size="6.0" font-weight="bold" text-anchor="end" fill="#1a1a1a">0.5</text>
<text x="19.0" y="177.83" font-size="6.0" font-weight="bold" text-anchor="end" fill="#1a1a1a">1.0</text>
<text x="19.0" y="134.9" font-size="6.0" font-weight="bold" text-anchor="end" fill="#1a1a1a">1.5</text>
<text x="19.0" y="91.98" font-size="6.0" font-weight="bold" text-anchor="end" fill="#1a1a1a">2.0</text>
<text x="19.0" y="49.05" font-size="6.0" font-weight="bold" text-anchor="end" fill="#1a1a1a">2.5</text>
<text x="52.27" y="235.75" font-size="6.0" font-weight="bold" text-anchor="middle" fill="#1a1a1a">T1</text>
<text x="113.6" y="235.75" font-size="6.0" font-weight="bold" text-anchor="middle" fill="#1a1a1a">T2</text>
<text x="174.93" y="235.75" font-size="6.0" font-weight="bold" text-anchor="middle" fill="#1a1a1a">T3</text>
<text x="113.6" y="242.7" font-size="6.2" font-weight="bold" text-anchor="middle" fill="#1a1a1a">Timepoint</text>
<text x="7.4" y="119.6" font-size="6.2" font-weight="bold" text-anchor="middle" fill="#1a1a1a" transform="rotate(-90 7.4 119.6)">PA/NA ratio</text>
<text x="113.5" y="7.9" font-size="7.1" font-weight="bold" text-anchor="middle" fill="#1a1a1a">A) PA/NA Ratio Distributions</text>
<rect x="153.0" y="15.4" width="11" height="3.8" fill="#3274a1" stroke="#3d3d3d" stroke-width="0.4"/>
<rect x="153.0" y="23.200000000000003" width="11" height="3.8" fill="#e1812c" stroke="#3d3d3d" stroke-width="0.4"/>
<text x="168.5" y="19.35" font-size="6.0" stroke="#1a1a1a" stroke-width="0.12" text-anchor="start" fill="#1a1a1a">Control</text>
<text x="168.5" y="27.150000000000002" font-size="6.0" stroke="#1a1a1a" stroke-width="0.12" text-anchor="start" fill="#1a1a1a">Intervention</text>
<rect x="268.45" y="38.50" width="11.1" height="190.00" fill="#1f77b4" stroke="#1a1a1a" stroke-width="0.45"/>
<rect x="279.55" y="37.40" width="11.1" height="191.10" fill="#ff7f0e" stroke="#1a1a1a" stroke-width="0.45"/>
<rect x="297.50" y="43.20" width="11.1" height="185.30" fill="#1f77b4" stroke="#1a1a1a" stroke-width="0.45"/>
<rect x="308.60" y="22.40" width="11.1" height="206.10" fill="#ff7f0e" stroke="#1a1a1a" stroke-width="0.45"/>
<rect x="326.55" y="42.50" width="11.1" height="186.00" fill="#1f77b4" stroke="#1a1a1a" stroke-width="0.45"/>
<rect x="337.65" y="21.10" width="11.1" height="207.40" fill="#ff7f0e" stroke="#1a1a1a" stroke-width="0.45"/>
<rect x="355.60" y="141.20" width="11.1" height="87.30" fill="#1f77b4" stroke="#1a1a1a" stroke-width="0.45"/>
<rect x="366.70" y="138.10" width="11.1" height="90.40" fill="#ff7f0e" stroke="#1a1a1a" stroke-width="0.45"/>
<rect x="384.65" y="143.90" width="11.1" height="84.60" fill="#1f77b4" stroke="#1a1a1a" stroke-width="0.45"/>
<rect x="395.75" y="112.50" width="11.1" height="116.00" fill="#ff7f0e" stroke="#1a1a1a" stroke-width="0.45"/>
<rect x="413.70" y="141.20" width="11.1" height="87.30" fill="#1f77b4" stroke="#1a1a1a" stroke-width="0.45"/>
<rect x="424.80" y="107.30" width="11.1" height="121.20" fill="#ff7f0e" stroke="#1a1a1a" stroke-width="0.45"/>
<rect x="260.5" y="10.5" width="183.0" height="218.0" fill="none" stroke="#333" stroke-width="0.6"/>
<text x="257.6" y="230.65" font-size="6.0" font-weight="bold" text-anchor="end" fill="#1a1a1a">0</text>
<text x="257.6" y="202.43" font-size="6.0" font-weight="bold" text-anchor="end" fill="#1a1a1a">1</text>
<text x="257.6" y="174.21" font-size="6.0" font-weight="bold" text-anchor="end" fill="#1a1a1a">2</text>
<text x="257.6" y="145.99" font-size="6.0" font-weight="bold" text-anchor="end" fill="#1a1a1a">3</text>
<text x="257.6" y="117.77" font-size="6.0" font-weight="bold" text-anchor="end" fill="#1a1a1a">4</text>
<text x="257.6" y="89.55" font-size="6.0" font-weight="bold" text-anchor="end" fill="#1a1a1a">5</text>
<text x="257.6" y="61.33" font-size="6.0" font-weight="bold" text-anchor="end" fill="#1a1a1a">6</text>
<text x="257.6" y="33.11" font-size="6.0" font-weight="bold" text-anchor="end" fill="#1a1a1a">7</text>
<text x="279.65" y="235.75" font-size="6.0" font-weight="bold" text-anchor="middle" fill="#1a1a1a">T1</text>
<text x="279.65" y="242.4" font-size="6.0" font-weight="bold" text-anchor="middle" fill="#1a1a1a">Duration</text>
<text x="308.7" y="235.75" font-size="6.0" font-weight="bold" text-anchor="middle" fill="#1a1a1a">T2</text>
<text x="308.7" y="242.4" font-size="6.0" font-weight="bold" text-anchor="middle" fill="#1a1a1a">Duration</text>
<text x="337.75" y="235.75" font-size="6.0" font-weight="bold" text-anchor="middle" fill="#1a1a1a">T3</text>
<text x="337.75" y="242.4" font-size="6.0" font-weight="bold" text-anchor="middle" fill="#1a1a1a">Duration</text>
<text x="366.8" y="235.75" font-size="6.0" font-weight="bold" text-anchor="middle" fill="#1a1a1a">T1</text>
<text x="366.8" y="242.4" font-size="6.0" font-weight="bold" text-anchor="middle" fill="#1a1a1a">Quality</text>
<text x="395.85" y="235.75" font-size="6.0" font-weight="bold" text-anchor="middle" fill="#1a1a1a">T2</text>
<text x="395.85" y="242.4" font-size="6.0" font-weight="bold" text-anchor="middle" fill="#1a1a1a">Quality</text>
<text x="424.9" y="235.75" font-size="6.0" font-weight="bold" text-anchor="middle" fill="#1a1a1a">T3</text>
<text x="424.9" y="242.4" font-size="6.0" font-weight="bold" text-anchor="middle" fill="#1a1a1a">Quality</text>
<text x="351.6" y="249.6" font-size="6.2" font-weight="bold" text-anchor="middle" fill="#1a1a1a">Timepoint × Metric</text>
<text x="250.5" y="118.8" font-size="6.2" font-weight="bold" text-anchor="middle" fill="#1a1a1a" transform="rotate(-90 250.5 118.8)">Value (h or 1–5 quality)</text>
<text x="352.0" y="7.9" font-size="7.1" font-weight="bold" text-anchor="middle" fill="#1a1a1a">B) Sleep Duration &amp; Quality by Timepoint</text>
<rect x="391.5" y="15.499999999999998" width="11" height="3.8" fill="#1f77b4" stroke="#1a1a1a" stroke-width="0.4"/>
<rect x="391.5" y="23.3" width="11" height="3.8" fill="#ff7f0e" stroke="#1a1a1a" stroke-width="0.4"/>
<text x="407.0" y="19.45" font-size="6.0" stroke="#1a1a1a" stroke-width="0.12" text-anchor="start" fill="#1a1a1a">Control</text>
<text x="407.0" y="27.25" font-size="6.0" stroke="#1a1a1a" stroke-width="0.12" text-anchor="start" fill="#1a1a1a">Intervention</text>
<path d="M521.5 32.7L521.50 32.7L521.48 33.7L521.46 34.7L521.42 35.7L521.39 36.7L521.35 37.7L521.31 38.7L521.26 39.7L521.22 40.7L521.16 41.7L521.09 42.7L521.02 43.7L520.95 44.7L520.87 45.7L520.79 46.7L520.70 47.7L520.61 48.7L520.53 49.7L520.44 50.7L520.35 51.7L520.26 52.7L520.17 53.7L520.08 54.7L519.98 55.7L519.89 56.7L519.80 57.7L519.71 58.7L519.63 59.7L519.54 60.7L519.46 61.7L519.38 62.7L519.31 63.7L519.23 64.7L519.16 65.7L519.08 66.7L519.00 67.7L518.92 68.7L518.83 69.7L518.74 70.7L518.65 71.7L518.56 72.7L518.47 73.7L518.37 74.7L518.27 75.7L518.16 76.7L518.04 77.7L517.90 78.7L517.75 79.7L517.57 80.7L517.34 81.7L517.07 82.7L516.76 83.7L516.42 84.7L516.05 85.7L515.66 86.7L515.25 87.7L514.84 88.7L514.42 89.7L514.01 90.7L513.57 91.7L513.11 92.7L512.63 93.7L512.12 94.7L511.59 95.7L511.04 96.7L510.45 97.7L509.84 98.7L509.20 99.7L508.47 100.7L507.56 101.7L506.58 102.7L505.67 103.7L504.96 104.7L504.47 105.7L504.03 106.7L503.64 107.7L503.35 108.7L503.21 109.7L503.20 110.7L503.20 111.7L503.20 112.7L503.20 113.7L503.20 114.7L503.24 115.7L503.43 116.7L503.72 117.7L504.06 118.7L504.40 119.7L504.72 120.7L505.07 121.7L505.44 122.7L505.84 123.7L506.27 124.7L506.74 125.7L507.27 126.7L507.84 127.7L508.44 128.7L509.03 129.7L509.60 130.7L510.19 131.7L510.77 132.7L511.36 133.7L511.93 134.7L512.49 135.7L513.04 136.7L513.59 137.7L514.13 138.7L514.65 139.7L515.16 140.7L515.66 141.7L516.15 142.7L516.62 143.7L517.07 144.7L517.49 145.7L517.91 146.7L518.30 147.7L518.67 148.7L519.01 149.7L519.32 150.7L519.61 151.7L519.89 152.7L520.14 153.7L520.35 154.7L520.51 155.7L520.66 156.7L520.78 157.7L520.89 158.7L520.98 159.7L521.05 160.7L521.11 161.7L521.16 162.7L521.21 163.7L521.24 164.7L521.27 165.7L521.29 166.7L521.31 167.7L521.33 168.7L521.34 169.7L521.36 170.7L521.37 171.7L521.38 172.7L521.39 173.7L521.40 174.7L521.41 175.7L521.41 176.7L521.42 177.7L521.43 178.7L521.44 179.7L521.44 180.7L521.45 181.7L521.46 182.7L521.46 183.7L521.47 184.7L521.48 185.7L521.48 186.7L521.49 187.7L521.49 188.7L521.49 189.7L521.50 190.7L521.50 191.7L521.50 192.7L521.50 193.7L521.50 193.9L521.5 193.9Z" fill="#3274a1" stroke="#3d3d3d" stroke-width="0.5" stroke-linejoin="round"/>
<path d="M521.5 51.0L521.50 51.0L521.79 52.0L522.08 53.0L522.39 54.0L522.70 55.0L523.03 56.0L523.37 57.0L523.72 58.0L524.07 59.0L524.40 60.0L524.72 61.0L525.03 62.0L525.34 63.0L525.64 64.0L525.94 65.0L526.24 66.0L526.54 67.0L526.85 68.0L527.17 69.0L527.50 70.0L527.86 71.0L528.25 72.0L528.65 73.0L529.07 74.0L529.49 75.0L529.90 76.0L530.28 77.0L530.64 78.0L530.95 79.0L531.20 80.0L531.42 81.0L531.62 82.0L531.81 83.0L531.99 84.0L532.16 85.0L532.31 86.0L532.45 87.0L532.58 88.0L532.70 89.0L532.80 90.0L532.89 91.0L532.96 92.0L533.02 93.0L533.08 94.0L533.13 95.0L533.18 96.0L533.24 97.0L533.31 98.0L533.40 99.0L533.50 100.0L533.66 101.0L533.90 102.0L534.17 103.0L534.45 104.0L534.70 105.0L534.95 106.0L535.22 107.0L535.47 108.0L535.68 109.0L535.80 110.0L535.86 111.0L535.92 112.0L535.96 113.0L535.99 114.0L536.00 115.0L535.99 116.0L535.96 117.0L535.92 118.0L535.86 119.0L535.80 120.0L535.71 121.0L535.57 122.0L535.40 123.0L535.20 124.0L535.00 125.0L534.78 126.0L534.52 127.0L534.24 128.0L533.93 129.0L533.60 130.0L533.24 131.0L532.83 132.0L532.40 133.0L531.95 134.0L531.50 135.0L531.05 136.0L530.58 137.0L530.10 138.0L529.61 139.0L529.10 140.0L528.55 141.0L527.96 142.0L527.36 143.0L526.80 144.0L526.30 145.0L525.86 146.0L525.44 147.0L525.06 148.0L524.71 149.0L524.40 150.0L524.13 151.0L523.88 152.0L523.65 153.0L523.44 154.0L523.25 155.0L523.07 156.0L522.91 157.0L522.76 158.0L522.63 159.0L522.50 160.0L522.38 161.0L522.26 162.0L522.16 163.0L522.07 164.0L522.00 165.0L521.95 166.0L521.90 167.0L521.85 168.0L521.81 169.0L521.77 170.0L521.74 171.0L521.71 172.0L521.69 173.0L521.67 174.0L521.65 175.0L521.64 176.0L521.62 177.0L521.61 178.0L521.60 179.0L521.59 180.0L521.58 181.0L521.57 182.0L521.56 183.0L521.55 184.0L521.54 185.0L521.53 186.0L521.52 187.0L521.52 188.0L521.51 189.0L521.51 190.0L521.50 191.0L521.50 192.0L521.50 193.0L521.50 193.9L521.5 193.9Z" fill="#e1812c" stroke="#3d3d3d" stroke-width="0.5" stroke-linejoin="round"/>
<path d="M567.5 25.3L567.50 25.3L567.46 26.3L567.43 27.3L567.38 28.3L567.34 29.3L567.29 30.3L567.24 31.3L567.19 32.3L567.14 33.3L567.08 34.3L567.02 35.3L566.96 36.3L566.90 37.3L566.83 38.3L566.75 39.3L566.68 40.3L566.60 41.3L566.52 42.3L566.44 43.3L566.36 44.3L566.27 45.3L566.19 46.3L566.10 47.3L566.01 48.3L565.91 49.3L565.81 50.3L565.71 51.3L565.61 52.3L565.50 53.3L565.38 54.3L565.26 55.3L565.13 56.3L564.99 57.3L564.85 58.3L564.70 59.3L564.56 60.3L564.42 61.3L564.29 62.3L564.16 63.3L564.03 64.3L563.89 65.3L563.76 66.3L563.62 67.3L563.47 68.3L563.31 69.3L563.15 70.3L562.97 71.3L562.79 72.3L562.60 73.3L562.40 74.3L562.19 75.3L561.98 76.3L561.75 77.3L561.52 78.3L561.28 79.3L561.02 80.3L560.75 81.3L560.45 82.3L560.14 83.3L559.81 84.3L559.48 85.3L559.13 86.3L558.79 87.3L558.45 88.3L558.12 89.3L557.80 90.3L557.47 91.3L557.11 92.3L556.75 93.3L556.38 94.3L556.03 95.3L555.70 96.3L555.39 97.3L555.13 98.3L554.92 99.3L554.76 100.3L554.63 101.3L554.52 102.3L554.42 103.3L554.34 104.3L554.28 105.3L554.23 106.3L554.17 107.3L554.13 108.3L554.11 109.3L554.10 110.3L554.12 111.3L554.16 112.3L554.21 113.3L554.26 114.3L554.31 115.3L554.36 116.3L554.42 117.3L554.48 118.3L554.55 119.3L554.62 120.3L554.72 121.3L554.83 122.3L554.95 123.3L555.09 124.3L555.25 125.3L555.45 126.3L555.68 127.3L555.94 128.3L556.21 129.3L556.48 130.3L556.75 131.3L557.02 132.3L557.32 133.3L557.65 134.3L558.02 135.3L558.49 136.3L559.03 137.3L559.59 138.3L560.15 139.3L560.64 140.3L561.12 141.3L561.58 142.3L562.02 143.3L562.43 144.3L562.81 145.3L563.16 146.3L563.49 147.3L563.80 148.3L564.10 149.3L564.39 150.3L564.67 151.3L564.94 152.3L565.20 153.3L565.44 154.3L565.66 155.3L565.87 156.3L566.07 157.3L566.24 158.3L566.40 159.3L566.54 160.3L566.66 161.3L566.77 162.3L566.87 163.3L566.95 164.3L567.02 165.3L567.08 166.3L567.13 167.3L567.17 168.3L567.22 169.3L567.25 170.3L567.28 171.3L567.31 172.3L567.33 173.3L567.35 174.3L567.37 175.3L567.40 176.3L567.41 177.3L567.43 178.3L567.45 179.3L567.46 180.3L567.48 181.3L567.49 182.3L567.49 183.3L567.50 184.3L567.50 185.3L567.5 185.3Z" fill="#3274a1" stroke="#3d3d3d" stroke-width="0.5" stroke-linejoin="round"/>
<path d="M567.5 54.0L567.50 54.0L567.72 55.0L567.93 56.0L568.13 57.0L568.31 58.0L568.47 59.0L568.60 60.0L568.71 61.0L568.80 62.0L568.89 63.0L568.96 64.0L569.03 65.0L569.10 66.0L569.17 67.0L569.24 68.0L569.32 69.0L569.40 70.0L569.49 71.0L569.57 72.0L569.65 73.0L569.74 74.0L569.83 75.0L569.92 76.0L570.03 77.0L570.14 78.0L570.26 79.0L570.40 80.0L570.56 81.0L570.76 82.0L570.98 83.0L571.23 84.0L571.50 85.0L571.79 86.0L572.10 87.0L572.42 88.0L572.76 89.0L573.10 90.0L573.47 91.0L573.88 92.0L574.33 93.0L574.80 94.0L575.30 95.0L575.82 96.0L576.36 97.0L576.90 98.0L577.45 99.0L578.00 100.0L578.58 101.0L579.19 102.0L579.82 103.0L580.43 104.0L581.00 105.0L581.53 106.0L582.03 107.0L582.51 108.0L582.97 109.0L583.40 110.0L583.82 111.0L584.24 112.0L584.63 113.0L584.96 114.0L585.20 115.0L585.38 116.0L585.54 117.0L585.68 118.0L585.77 119.0L585.80 120.0L585.79 121.0L585.74 122.0L585.68 123.0L585.60 124.0L585.50 125.0L585.30 126.0L584.93 127.0L584.45 128.0L583.93 129.0L583.40 130.0L582.84 131.0L582.19 132.0L581.50 133.0L580.83 134.0L580.20 135.0L579.62 136.0L579.05 137.0L578.50 138.0L577.98 139.0L577.50 140.0L577.05 141.0L576.64 142.0L576.24 143.0L575.86 144.0L575.50 145.0L575.15 146.0L574.82 147.0L574.50 148.0L574.19 149.0L573.90 150.0L573.62 151.0L573.37 152.0L573.11 153.0L572.86 154.0L572.60 155.0L572.32 156.0L572.04 157.0L571.75 158.0L571.47 159.0L571.20 160.0L570.94 161.0L570.69 162.0L570.45 163.0L570.22 164.0L570.00 165.0L569.80 166.0L569.62 167.0L569.44 168.0L569.27 169.0L569.10 170.0L568.93 171.0L568.76 172.0L568.59 173.0L568.43 174.0L568.30 175.0L568.18 176.0L568.07 177.0L567.97 178.0L567.88 179.0L567.80 180.0L567.73 181.0L567.66 182.0L567.60 183.0L567.55 184.0L567.51 185.0L567.50 185.3L567.5 185.3Z" fill="#e1812c" stroke="#3d3d3d" stroke-width="0.5" stroke-linejoin="round"/>
<path d="M613.5 19.8L613.50 19.8L613.48 20.8L613.45 21.8L613.42 22.8L613.38 23.8L613.34 24.8L613.29 25.8L613.24 26.8L613.18 27.8L613.12 28.8L613.06 29.8L612.99 30.8L612.93 31.8L612.86 32.8L612.79 33.8L612.71 34.8L612.64 35.8L612.55 36.8L612.45 37.8L612.34 38.8L612.23 39.8L612.11 40.8L611.99 41.8L611.87 42.8L611.75 43.8L611.62 44.8L611.51 45.8L611.39 46.8L611.27 47.8L611.16 48.8L611.04 49.8L610.91 50.8L610.78 51.8L610.64 52.8L610.49 53.8L610.33 54.8L610.16 55.8L609.96 56.8L609.75 57.8L609.52 58.8L609.28 59.8L609.02 60.8L608.76 61.8L608.50 62.8L608.23 63.8L607.95 64.8L607.68 65.8L607.38 66.8L607.07 67.8L606.74 68.8L606.42 69.8L606.09 70.8L605.76 71.8L605.44 72.8L605.14 73.8L604.85 74.8L604.59 75.8L604.33 76.8L604.08 77.8L603.83 78.8L603.60 79.8L603.36 80.8L603.13 81.8L602.90 82.8L602.67 83.8L602.45 84.8L602.20 85.8L601.93 86.8L601.65 87.8L601.35 88.8L601.07 89.8L600.80 90.8L600.57 91.8L600.39 92.8L600.26 93.8L600.20 94.8L600.21 95.8L600.26 96.8L600.34 97.8L600.41 98.8L600.49 99.8L600.55 100.8L600.60 101.8L600.65 102.8L600.71 103.8L600.78 104.8L600.88 105.8L601.02 106.8L601.19 107.8L601.37 108.8L601.56 109.8L601.75 110.8L601.96 111.8L602.18 112.8L602.42 113.8L602.65 114.8L602.89 115.8L603.14 116.8L603.40 117.8L603.66 118.8L603.94 119.8L604.24 120.8L604.55 121.8L604.88 122.8L605.21 123.8L605.54 124.8L605.86 125.8L606.18 126.8L606.50 127.8L606.82 128.8L607.14 129.8L607.45 130.8L607.76 131.8L608.06 132.8L608.36 133.8L608.64 134.8L608.92 135.8L609.19 136.8L609.45 137.8L609.71 138.8L609.95 139.8L610.19 140.8L610.41 141.8L610.63 142.8L610.84 143.8L611.06 144.8L611.28 145.8L611.52 146.8L611.75 147.8L611.97 148.8L612.17 149.8L612.34 150.8L612.50 151.8L612.65 152.8L612.78 153.8L612.88 154.8L612.96 155.8L613.04 156.8L613.10 157.8L613.15 158.8L613.19 159.8L613.22 160.8L613.25 161.8L613.28 162.8L613.31 163.8L613.33 164.8L613.35 165.8L613.36 166.8L613.38 167.8L613.39 168.8L613.40 169.8L613.40 170.8L613.41 171.8L613.42 172.8L613.42 173.8L613.43 174.8L613.43 175.8L613.44 176.8L613.44 177.8L613.45 178.8L613.45 179.8L613.45 180.8L613.46 181.8L613.46 182.8L613.47 183.8L613.47 184.8L613.47 185.8L613.48 186.8L613.48 187.8L613.48 188.8L613.48 189.8L613.49 190.8L613.49 191.8L613.49 192.8L613.49 193.8L613.49 194.8L613.49 195.8L613.50 196.8L613.50 197.8L613.50 198.8L613.50 199.8L613.50 200.8L613.50 201.8L613.50 202.8L613.50 203.5L613.5 203.5Z" fill="#3274a1" stroke="#3d3d3d" stroke-width="0.5" stroke-linejoin="round"/>
<path d="M613.5 68.5L613.50 68.5L613.82 69.5L614.13 70.5L614.44 71.5L614.73 72.5L615.01 73.5L615.27 74.5L615.52 75.5L615.76 76.5L615.98 77.5L616.19 78.5L616.40 79.5L616.60 80.5L616.79 81.5L616.99 82.5L617.19 83.5L617.40 84.5L617.61 85.5L617.82 86.5L618.03 87.5L618.24 88.5L618.45 89.5L618.66 90.5L618.87 91.5L619.08 92.5L619.29 93.5L619.50 94.5L619.70 95.5L619.90 96.5L620.09 97.5L620.29 98.5L620.49 99.5L620.71 100.5L620.94 101.5L621.19 102.5L621.43 103.5L621.68 104.5L621.92 105.5L622.15 106.5L622.38 107.5L622.61 108.5L622.87 109.5L623.14 110.5L623.43 111.5L623.73 112.5L624.06 113.5L624.41 114.5L624.80 115.5L625.25 116.5L625.74 117.5L626.25 118.5L626.76 119.5L627.24 120.5L627.74 121.5L628.23 122.5L628.72 123.5L629.18 124.5L629.61 125.5L630.05 126.5L630.46 127.5L630.84 128.5L631.17 129.5L631.42 130.5L631.67 131.5L631.90 132.5L632.08 133.5L632.19 134.5L632.18 135.5L632.06 136.5L631.83 137.5L631.53 138.5L631.18 139.5L630.77 140.5L630.12 141.5L629.27 142.5L628.34 143.5L627.42 144.5L626.59 145.5L625.76 146.5L624.91 147.5L624.10 148.5L623.34 149.5L622.68 150.5L622.05 151.5L621.47 152.5L620.93 153.5L620.43 154.5L619.98 155.5L619.57 156.5L619.18 157.5L618.82 158.5L618.47 159.5L618.13 160.5L617.78 161.5L617.45 162.5L617.13 163.5L616.83 164.5L616.57 165.5L616.33 166.5L616.10 167.5L615.89 168.5L615.69 169.5L615.51 170.5L615.34 171.5L615.18 172.5L615.02 173.5L614.87 174.5L614.72 175.5L614.57 176.5L614.41 177.5L614.27 178.5L614.15 179.5L614.06 180.5L613.98 181.5L613.91 182.5L613.85 183.5L613.79 184.5L613.75 185.5L613.71 186.5L613.69 187.5L613.67 188.5L613.65 189.5L613.63 190.5L613.61 191.5L613.59 192.5L613.58 193.5L613.56 194.5L613.55 195.5L613.54 196.5L613.53 197.5L613.52 198.5L613.51 199.5L613.51 200.5L613.50 201.5L613.50 202.5L613.50 203.5L613.5 203.5Z" fill="#e1812c" stroke="#3d3d3d" stroke-width="0.5" stroke-linejoin="round"/>
<path d="M659.5 25.0L659.50 25.0L659.47 26.0L659.44 27.0L659.40 28.0L659.36 29.0L659.32 30.0L659.28 31.0L659.24 32.0L659.19 33.0L659.15 34.0L659.10 35.0L659.05 36.0L659.00 37.0L658.95 38.0L658.89 39.0L658.83 40.0L658.77 41.0L658.71 42.0L658.64 43.0L658.57 44.0L658.50 45.0L658.43 46.0L658.35 47.0L658.28 48.0L658.20 49.0L658.12 50.0L658.03 51.0L657.93 52.0L657.83 53.0L657.72 54.0L657.60 55.0L657.46 56.0L657.31 57.0L657.13 58.0L656.94 59.0L656.73 60.0L656.51 61.0L656.28 62.0L656.03 63.0L655.77 64.0L655.50 65.0L655.21 66.0L654.87 67.0L654.51 68.0L654.11 69.0L653.70 70.0L653.28 71.0L652.85 72.0L652.42 73.0L652.00 74.0L651.60 75.0L651.20 76.0L650.78 77.0L650.36 78.0L649.93 79.0L649.51 80.0L649.09 81.0L648.69 82.0L648.30 83.0L647.94 84.0L647.60 85.0L647.28 86.0L646.97 87.0L646.67 88.0L646.37 89.0L646.09 90.0L645.82 91.0L645.57 92.0L645.33 93.0L645.10 94.0L644.90 95.0L644.69 96.0L644.48 97.0L644.29 98.0L644.15 99.0L644.10 100.0L644.10 101.0L644.10 102.0L644.10 103.0L644.10 104.0L644.10 105.0L644.14 106.0L644.23 107.0L644.37 108.0L644.53 109.0L644.70 110.0L644.89 111.0L645.13 112.0L645.40 113.0L645.69 114.0L646.00 115.0L646.33 116.0L646.70 117.0L647.09 118.0L647.50 119.0L647.90 120.0L648.31 121.0L648.73 122.0L649.16 123.0L649.58 124.0L650.00 125.0L650.40 126.0L650.80 127.0L651.20 128.0L651.60 129.0L652.00 130.0L652.42 131.0L652.84 132.0L653.27 133.0L653.69 134.0L654.10 135.0L654.51 136.0L654.92 137.0L655.32 138.0L655.69 139.0L656.00 140.0L656.26 141.0L656.50 142.0L656.71 143.0L656.91 144.0L657.10 145.0L657.28 146.0L657.45 147.0L657.61 148.0L657.76 149.0L657.90 150.0L658.03 151.0L658.16 152.0L658.28 153.0L658.39 154.0L658.50 155.0L658.61 156.0L658.73 157.0L658.84 158.0L658.93 159.0L659.00 160.0L659.05 161.0L659.10 162.0L659.15 163.0L659.20 164.0L659.23 165.0L659.27 166.0L659.30 167.0L659.32 168.0L659.34 169.0L659.35 170.0L659.36 171.0L659.36 172.0L659.37 173.0L659.38 174.0L659.38 175.0L659.39 176.0L659.39 177.0L659.40 178.0L659.41 179.0L659.41 180.0L659.42 181.0L659.42 182.0L659.43 183.0L659.43 184.0L659.43 185.0L659.44 186.0L659.44 187.0L659.45 188.0L659.45 189.0L659.45 190.0L659.46 191.0L659.46 192.0L659.46 193.0L659.47 194.0L659.47 195.0L659.47 196.0L659.48 197.0L659.48 198.0L659.48 199.0L659.48 200.0L659.48 201.0L659.49 202.0L659.49 203.0L659.49 204.0L659.49 205.0L659.49 206.0L659.49 207.0L659.49 208.0L659.50 209.0L659.50 210.0L659.50 211.0L659.50 212.0L659.50 213.0L659.50 214.0L659.50 215.0L659.50 216.0L659.50 217.0L659.50 218.0L659.5 218.0Z" fill="#3274a1" stroke="#3d3d3d" stroke-width="0.5" stroke-linejoin="round"/>
<path d="M659.5 60.5L659.50 60.5L659.76 61.5L660.01 62.5L660.24 63.5L660.43 64.5L660.57 65.5L660.68 66.5L660.78 67.5L660.87 68.5L660.95 69.5L661.02 70.5L661.10 71.5L661.17 72.5L661.26 73.5L661.35 74.5L661.45 75.5L661.57 76.5L661.68 77.5L661.80 78.5L661.93 79.5L662.06 80.5L662.20 81.5L662.33 82.5L662.48 83.5L662.62 84.5L662.78 85.5L662.93 86.5L663.09 87.5L663.26 88.5L663.43 89.5L663.61 90.5L663.79 91.5L663.98 92.5L664.18 93.5L664.39 94.5L664.61 95.5L664.87 96.5L665.14 97.5L665.42 98.5L665.68 99.5L665.91 100.5L666.13 101.5L666.35 102.5L666.54 103.5L666.72 104.5L666.87 105.5L667.00 106.5L667.11 107.5L667.22 108.5L667.33 109.5L667.47 110.5L667.62 111.5L667.79 112.5L667.95 113.5L668.12 114.5L668.28 115.5L668.44 116.5L668.60 117.5L668.76 118.5L668.92 119.5L669.08 120.5L669.23 121.5L669.38 122.5L669.54 123.5L669.71 124.5L669.90 125.5L670.11 126.5L670.33 127.5L670.57 128.5L670.79 129.5L671.01 130.5L671.22 131.5L671.44 132.5L671.64 133.5L671.82 134.5L671.97 135.5L672.12 136.5L672.26 137.5L672.37 138.5L672.47 139.5L672.53 140.5L672.59 141.5L672.64 142.5L672.68 143.5L672.70 144.5L672.70 145.5L672.68 146.5L672.64 147.5L672.59 148.5L672.53 149.5L672.47 150.5L672.37 151.5L672.26 152.5L672.12 153.5L671.97 154.5L671.82 155.5L671.65 156.5L671.46 157.5L671.25 158.5L671.02 159.5L670.77 160.5L670.49 161.5L670.18 162.5L669.84 163.5L669.48 164.5L669.11 165.5L668.68 166.5L668.23 167.5L667.77 168.5L667.31 169.5L666.89 170.5L666.48 171.5L666.07 172.5L665.68 173.5L665.29 174.5L664.91 175.5L664.53 176.5L664.16 177.5L663.80 178.5L663.46 179.5L663.14 180.5L662.85 181.5L662.56 182.5L662.29 183.5L662.03 184.5L661.77 185.5L661.51 186.5L661.25 187.5L661.01 188.5L660.80 189.5L660.61 190.5L660.42 191.5L660.25 192.5L660.10 193.5L659.99 194.5L659.92 195.5L659.87 196.5L659.82 197.5L659.77 198.5L659.73 199.5L659.70 200.5L659.67 201.5L659.64 202.5L659.62 203.5L659.61 204.5L659.59 205.5L659.58 206.5L659.57 207.5L659.56 208.5L659.55 209.5L659.54 210.5L659.53 211.5L659.52 212.5L659.51 213.5L659.51 214.5L659.50 215.5L659.50 216.5L659.50 217.5L659.50 218.0L659.5 218.0Z" fill="#e1812c" stroke="#3d3d3d" stroke-width="0.5" stroke-linejoin="round"/>
<circle class="pb" cx="511.6" cy="108.3" r=".55"/>
<circle class="pb" cx="513.9" cy="100.5" r=".55"/>
<circle class="pb" cx="511.3" cy="100.4" r=".55"/>
<circle class="pb" cx="512.2" cy="98.9" r=".55"/>
<circle class="pb" cx="511.3" cy="115.3" r=".55"/>
<circle class="pb" cx="510.3" cy="110.1" r=".55"/>
<circle class="pb" cx="513.8" cy="123.9" r=".55"/>
<circle class="pb" cx="510.3" cy="119.4" r=".55"/>
<circle class="pb" cx="513.5" cy="104.5" r=".55"/>
<circle class="pb" cx="512.8" cy="135.0" r=".55"/>
<circle class="pb" cx="512.8" cy="106.3" r=".55"/>
<circle class="pb" cx="510.7" cy="120.7" r=".55"/>
<circle class="pb" cx="512.2" cy="128.7" r=".55"/>
<circle class="pb" cx="514.0" cy="108.1" r=".55"/>
<circle class="pb" cx="511.4" cy="110.0" r=".55"/>
<circle class="pb" cx="512.3" cy="118.7" r=".55"/>
<circle class="pb" cx="514.1" cy="113.6" r=".55"/>
<circle class="pb" cx="514.3" cy="118.9" r=".55"/>
<circle class="pb" cx="512.2" cy="100.0" r=".55"/>
<circle class="pb" cx="510.8" cy="114.0" r=".55"/>
<circle class="pb" cx="513.6" cy="109.9" r=".55"/>
<circle class="pb" cx="511.6" cy="106.6" r=".55"/>
<circle class="pb" cx="511.7" cy="126.9" r=".55"/>
<circle class="pb" cx="513.0" cy="122.6" r=".55"/>
<circle class="pb" cx="513.4" cy="115.3" r=".55"/>
<circle class="pb" cx="510.6" cy="118.6" r=".55"/>
<circle class="pb" cx="514.1" cy="116.3" r=".55"/>
<circle class="pb" cx="513.3" cy="121.3" r=".55"/>
<circle class="pb" cx="513.9" cy="132.7" r=".55"/>
<circle class="pb" cx="511.4" cy="111.0" r=".55"/>
<circle class="pb" cx="511.5" cy="128.1" r=".55"/>
<circle class="pb" cx="512.3" cy="102.9" r=".55"/>
<circle class="pb" cx="513.1" cy="117.8" r=".55"/>
<circle class="pb" cx="512.2" cy="95.8" r=".55"/>
<circle class="pb" cx="511.8" cy="107.7" r=".55"/>
<circle class="pb" cx="510.5" cy="108.4" r=".55"/>
<circle class="pb" cx="513.5" cy="97.3" r=".55"/>
<circle class="pb" cx="511.4" cy="104.0" r=".55"/>
<circle class="pb" cx="510.7" cy="106.8" r=".55"/>
<circle class="pb" cx="510.6" cy="128.4" r=".55"/>
<circle class="pb" cx="513.4" cy="116.0" r=".55"/>
<circle class="pb" cx="512.7" cy="97.1" r=".55"/>
<circle class="pb" cx="511.6" cy="117.9" r=".55"/>
<circle class="pb" cx="511.9" cy="99.6" r=".55"/>
<circle class="pb" cx="512.0" cy="119.0" r=".55"/>
<circle class="pb" cx="514.0" cy="112.2" r=".55"/>
<circle class="pb" cx="511.9" cy="100.2" r=".55"/>
<circle class="pb" cx="513.3" cy="115.7" r=".55"/>
<circle class="pb" cx="512.7" cy="118.5" r=".55"/>
<circle class="pb" cx="510.4" cy="100.7" r=".55"/>
<circle class="pb" cx="511.7" cy="102.2" r=".55"/>
<circle class="po" cx="529.5" cy="94.3" r=".55"/>
<circle class="po" cx="529.7" cy="135.0" r=".55"/>
<circle class="po" cx="530.0" cy="104.4" r=".55"/>
<circle class="po" cx="532.2" cy="100.8" r=".55"/>
<circle class="po" cx="530.0" cy="109.5" r=".55"/>
<circle class="po" cx="532.7" cy="104.7" r=".55"/>
<circle class="po" cx="532.0" cy="107.4" r=".55"/>
<circle class="po" cx="532.1" cy="102.5" r=".55"/>
<circle class="po" cx="529.6" cy="121.6" r=".55"/>
<circle class="po" cx="529.6" cy="91.6" r=".55"/>
<circle class="po" cx="532.0" cy="103.9" r=".55"/>
<circle class="po" cx="529.5" cy="105.2" r=".55"/>
<circle class="po" cx="529.7" cy="107.9" r=".55"/>
<circle class="po" cx="529.3" cy="128.2" r=".55"/>
<circle class="po" cx="530.7" cy="101.0" r=".55"/>
<circle class="po" cx="531.2" cy="126.8" r=".55"/>
<circle class="po" cx="528.9" cy="96.5" r=".55"/>
<circle class="po" cx="529.5" cy="132.1" r=".55"/>
<circle class="po" cx="529.2" cy="122.8" r=".55"/>
<circle class="po" cx="529.4" cy="100.4" r=".55"/>
<circle class="po" cx="532.4" cy="125.9" r=".55"/>
<circle class="po" cx="530.2" cy="109.6" r=".55"/>
<circle class="po" cx="529.3" cy="120.1" r=".55"/>
<circle class="po" cx="532.6" cy="119.6" r=".55"/>
<circle class="po" cx="531.9" cy="111.8" r=".55"/>
<circle class="po" cx="531.3" cy="133.1" r=".55"/>
<circle class="po" cx="530.2" cy="103.8" r=".55"/>
<circle class="po" cx="529.9" cy="91.3" r=".55"/>
<circle class="po" cx="531.9" cy="115.0" r=".55"/>
<circle class="po" cx="530.7" cy="115.5" r=".55"/>
<circle class="po" cx="532.1" cy="91.7" r=".55"/>
<circle class="po" cx="531.4" cy="102.0" r=".55"/>
<circle class="po" cx="529.8" cy="87.7" r=".55"/>
<circle class="po" cx="529.7" cy="112.1" r=".55"/>
<circle class="po" cx="529.6" cy="97.2" r=".55"/>
<circle class="po" cx="531.9" cy="122.5" r=".55"/>
<circle class="po" cx="532.3" cy="120.5" r=".55"/>
<circle class="po" cx="531.8" cy="129.1" r=".55"/>
<circle class="po" cx="529.4" cy="89.9" r=".55"/>
<circle class="po" cx="531.3" cy="106.6" r=".55"/>
<circle class="po" cx="528.9" cy="117.4" r=".55"/>
<circle class="po" cx="532.6" cy="94.9" r=".55"/>
<circle class="po" cx="529.4" cy="132.1" r=".55"/>
<circle class="po" cx="532.0" cy="107.9" r=".55"/>
<circle class="po" cx="528.9" cy="104.2" r=".55"/>
<circle class="po" cx="530.4" cy="112.8" r=".55"/>
<circle class="po" cx="531.2" cy="103.4" r=".55"/>
<circle class="po" cx="531.6" cy="97.9" r=".55"/>
<circle class="po" cx="529.5" cy="124.2" r=".55"/>
<circle class="po" cx="530.9" cy="87.8" r=".55"/>
<circle class="po" cx="530.9" cy="125.9" r=".55"/>
<circle class="pb" cx="557.4" cy="98.9" r=".55"/>
<circle class="pb" cx="558.8" cy="90.3" r=".55"/>
<circle class="pb" cx="556.9" cy="120.7" r=".55"/>
<circle class="pb" cx="556.7" cy="106.2" r=".55"/>
<circle class="pb" cx="557.1" cy="118.8" r=".55"/>
<circle class="pb" cx="557.1" cy="126.2" r=".55"/>
<circle class="pb" cx="557.0" cy="120.6" r=".55"/>
<circle class="pb" cx="556.4" cy="118.9" r=".55"/>
<circle class="pb" cx="556.4" cy="109.0" r=".55"/>
<circle class="pb" cx="557.8" cy="113.9" r=".55"/>
<circle class="pb" cx="560.2" cy="126.2" r=".55"/>
<circle class="pb" cx="560.1" cy="93.9" r=".55"/>
<circle class="pb" cx="557.1" cy="117.5" r=".55"/>
<circle class="pb" cx="558.8" cy="107.0" r=".55"/>
<circle class="pb" cx="559.9" cy="118.6" r=".55"/>
<circle class="pb" cx="560.3" cy="103.9" r=".55"/>
<circle class="pb" cx="558.2" cy="105.5" r=".55"/>
<circle class="pb" cx="558.3" cy="97.1" r=".55"/>
<circle class="pb" cx="559.6" cy="107.6" r=".55"/>
<circle class="pb" cx="559.7" cy="134.4" r=".55"/>
<circle class="pb" cx="556.5" cy="101.1" r=".55"/>
<circle class="pb" cx="556.5" cy="127.0" r=".55"/>
<circle class="pb" cx="556.4" cy="114.5" r=".55"/>
<circle class="pb" cx="560.3" cy="106.6" r=".55"/>
<circle class="pb" cx="557.7" cy="130.0" r=".55"/>
<circle class="pb" cx="557.6" cy="131.9" r=".55"/>
<circle class="pb" cx="559.3" cy="108.6" r=".55"/>
<circle class="pb" cx="560.0" cy="95.7" r=".55"/>
<circle class="pb" cx="559.9" cy="104.4" r=".55"/>
<circle class="pb" cx="557.7" cy="107.6" r=".55"/>
<circle class="pb" cx="558.2" cy="107.8" r=".55"/>
<circle class="pb" cx="560.3" cy="98.0" r=".55"/>
<circle class="pb" cx="556.6" cy="94.6" r=".55"/>
<circle class="pb" cx="556.8" cy="119.0" r=".55"/>
<circle class="pb" cx="557.2" cy="102.1" r=".55"/>
<circle class="pb" cx="558.8" cy="123.5" r=".55"/>
<circle class="pb" cx="556.7" cy="127.7" r=".55"/>
<circle class="pb" cx="558.6" cy="124.7" r=".55"/>
<circle class="pb" cx="558.3" cy="101.2" r=".55"/>
<circle class="pb" cx="557.5" cy="111.0" r=".55"/>
<circle class="pb" cx="557.5" cy="94.9" r=".55"/>
<circle class="pb" cx="557.8" cy="131.5" r=".55"/>
<circle class="pb" cx="558.3" cy="115.7" r=".55"/>
<circle class="pb" cx="557.2" cy="95.5" r=".55"/>
<circle class="po" cx="575.7" cy="115.2" r=".55"/>
<circle class="po" cx="575.0" cy="106.7" r=".55"/>
<circle class="po" cx="577.1" cy="132.4" r=".55"/>
<circle class="po" cx="575.3" cy="99.6" r=".55"/>
<circle class="po" cx="575.5" cy="106.7" r=".55"/>
<circle class="po" cx="575.1" cy="127.5" r=".55"/>
<circle class="po" cx="577.9" cy="114.4" r=".55"/>
<circle class="po" cx="575.0" cy="130.8" r=".55"/>
<circle class="po" cx="575.9" cy="113.5" r=".55"/>
<circle class="po" cx="575.9" cy="139.3" r=".55"/>
<circle class="po" cx="576.3" cy="129.7" r=".55"/>
<circle class="po" cx="578.2" cy="113.9" r=".55"/>
<circle class="po" cx="576.3" cy="99.5" r=".55"/>
<circle class="po" cx="575.9" cy="112.2" r=".55"/>
<circle class="po" cx="577.8" cy="119.1" r=".55"/>
<circle class="po" cx="578.2" cy="134.5" r=".55"/>
<circle class="po" cx="578.6" cy="122.5" r=".55"/>
<circle class="po" cx="577.2" cy="125.9" r=".55"/>
<circle class="po" cx="577.2" cy="111.9" r=".55"/>
<circle class="po" cx="576.0" cy="141.0" r=".55"/>
<circle class="po" cx="578.7" cy="122.8" r=".55"/>
<circle class="po" cx="575.4" cy="124.7" r=".55"/>
<circle class="po" cx="576.9" cy="106.3" r=".55"/>
<circle class="po" cx="577.4" cy="135.8" r=".55"/>
<circle class="po" cx="577.9" cy="102.8" r=".55"/>
<circle class="po" cx="576.2" cy="124.8" r=".55"/>
<circle class="po" cx="575.8" cy="141.2" r=".55"/>
<circle class="po" cx="578.6" cy="108.6" r=".55"/>
<circle class="po" cx="576.9" cy="108.8" r=".55"/>
<circle class="po" cx="575.8" cy="97.9" r=".55"/>
<circle class="po" cx="575.3" cy="124.8" r=".55"/>
<circle class="po" cx="577.9" cy="136.3" r=".55"/>
<circle class="po" cx="577.0" cy="121.9" r=".55"/>
<circle class="po" cx="576.2" cy="122.0" r=".55"/>
<circle class="po" cx="578.6" cy="121.7" r=".55"/>
<circle class="po" cx="577.0" cy="107.3" r=".55"/>
<circle class="po" cx="577.8" cy="102.4" r=".55"/>
<circle class="po" cx="576.6" cy="112.3" r=".55"/>
<circle class="po" cx="575.4" cy="125.8" r=".55"/>
<circle class="po" cx="577.5" cy="114.7" r=".55"/>
<circle class="po" cx="575.3" cy="105.4" r=".55"/>
<circle class="po" cx="575.2" cy="115.4" r=".55"/>
<circle class="po" cx="577.2" cy="115.2" r=".55"/>
<circle class="po" cx="575.8" cy="134.5" r=".55"/>
<circle class="po" cx="576.1" cy="102.2" r=".55"/>
<circle class="pb" cx="606.1" cy="84.6" r=".55"/>
<circle class="pb" cx="606.2" cy="92.8" r=".55"/>
<circle class="pb" cx="604.0" cy="86.6" r=".55"/>
<circle class="pb" cx="606.0" cy="81.0" r=".55"/>
<circle class="pb" cx="605.5" cy="102.3" r=".55"/>
<circle class="pb" cx="604.0" cy="85.3" r=".55"/>
<circle class="pb" cx="604.7" cy="108.7" r=".55"/>
<circle class="pb" cx="604.4" cy="102.3" r=".55"/>
<circle class="pb" cx="604.9" cy="87.7" r=".55"/>
<circle class="pb" cx="605.4" cy="100.1" r=".55"/>
<circle class="pb" cx="605.1" cy="106.0" r=".55"/>
<circle class="pb" cx="604.9" cy="87.4" r=".55"/>
<circle class="pb" cx="604.9" cy="93.7" r=".55"/>
<circle class="pb" cx="605.6" cy="105.6" r=".55"/>
<circle class="pb" cx="604.4" cy="94.8" r=".55"/>
<circle class="pb" cx="605.9" cy="83.1" r=".55"/>
<circle class="pb" cx="602.8" cy="92.4" r=".55"/>
<circle class="pb" cx="604.1" cy="91.2" r=".55"/>
<circle class="pb" cx="605.9" cy="83.8" r=".55"/>
<circle class="pb" cx="605.0" cy="104.7" r=".55"/>
<circle class="pb" cx="605.3" cy="99.0" r=".55"/>
<circle class="pb" cx="605.7" cy="92.6" r=".55"/>
<circle class="pb" cx="604.4" cy="112.0" r=".55"/>
<circle class="pb" cx="605.6" cy="120.7" r=".55"/>
<circle class="pb" cx="605.7" cy="107.8" r=".55"/>
<circle class="pb" cx="603.5" cy="87.5" r=".55"/>
<circle class="pb" cx="604.4" cy="119.9" r=".55"/>
<circle class="pb" cx="604.3" cy="92.7" r=".55"/>
<circle class="pb" cx="605.1" cy="92.1" r=".55"/>
<circle class="pb" cx="604.4" cy="107.5" r=".55"/>
<circle class="pb" cx="605.4" cy="97.6" r=".55"/>
<circle class="pb" cx="604.9" cy="116.6" r=".55"/>
<circle class="pb" cx="602.9" cy="100.9" r=".55"/>
<circle class="pb" cx="604.9" cy="80.0" r=".55"/>
<circle class="pb" cx="605.3" cy="87.5" r=".55"/>
<circle class="pb" cx="603.6" cy="83.9" r=".55"/>
<circle class="pb" cx="603.5" cy="93.7" r=".55"/>
<circle class="pb" cx="605.7" cy="98.8" r=".55"/>
<circle class="pb" cx="603.9" cy="104.0" r=".55"/>
<circle class="pb" cx="602.4" cy="87.6" r=".55"/>
<circle class="pb" cx="606.0" cy="87.0" r=".55"/>
<circle class="pb" cx="604.1" cy="106.5" r=".55"/>
<circle class="pb" cx="602.5" cy="109.3" r=".55"/>
<circle class="pb" cx="606.2" cy="94.0" r=".55"/>
<circle class="pb" cx="605.8" cy="84.0" r=".55"/>
<circle class="po" cx="624.0" cy="120.3" r=".55"/>
<circle class="po" cx="621.6" cy="136.4" r=".55"/>
<circle class="po" cx="622.0" cy="107.9" r=".55"/>
<circle class="po" cx="623.5" cy="131.6" r=".55"/>
<circle class="po" cx="623.6" cy="146.0" r=".55"/>
<circle class="po" cx="621.3" cy="130.2" r=".55"/>
<circle class="po" cx="624.1" cy="133.7" r=".55"/>
<circle class="po" cx="622.1" cy="134.3" r=".55"/>
<circle class="po" cx="621.8" cy="148.1" r=".55"/>
<circle class="po" cx="624.0" cy="136.4" r=".55"/>
<circle class="po" cx="624.6" cy="134.0" r=".55"/>
<circle class="po" cx="621.9" cy="118.3" r=".55"/>
<circle class="po" cx="622.9" cy="113.9" r=".55"/>
<circle class="po" cx="621.2" cy="137.9" r=".55"/>
<circle class="po" cx="621.3" cy="107.6" r=".55"/>
<circle class="po" cx="622.9" cy="144.3" r=".55"/>
<circle class="po" cx="620.9" cy="130.1" r=".55"/>
<circle class="po" cx="624.2" cy="127.9" r=".55"/>
<circle class="po" cx="623.1" cy="133.8" r=".55"/>
<circle class="po" cx="621.3" cy="135.5" r=".55"/>
<circle class="po" cx="624.4" cy="117.8" r=".55"/>
<circle class="po" cx="623.0" cy="129.6" r=".55"/>
<circle class="po" cx="622.7" cy="132.3" r=".55"/>
<circle class="po" cx="621.2" cy="137.9" r=".55"/>
<circle class="po" cx="622.5" cy="131.7" r=".55"/>
<circle class="po" cx="623.5" cy="120.2" r=".55"/>
<circle class="po" cx="622.0" cy="119.5" r=".55"/>
<circle class="pb" cx="649.4" cy="105.6" r=".55"/>
<circle class="pb" cx="650.5" cy="84.8" r=".55"/>
<circle class="pb" cx="651.1" cy="89.6" r=".55"/>
<circle class="pb" cx="650.7" cy="99.2" r=".55"/>
<circle class="pb" cx="650.8" cy="102.2" r=".55"/>
<circle class="pb" cx="652.2" cy="98.9" r=".55"/>
<circle class="pb" cx="652.2" cy="113.8" r=".55"/>
<circle class="pb" cx="652.0" cy="84.4" r=".55"/>
<circle class="pb" cx="651.2" cy="82.8" r=".55"/>
<circle class="pb" cx="648.9" cy="89.1" r=".55"/>
<circle class="pb" cx="648.6" cy="90.4" r=".55"/>
<circle class="pb" cx="650.7" cy="108.0" r=".55"/>
<circle class="pb" cx="652.2" cy="86.9" r=".55"/>
<circle class="pb" cx="648.7" cy="106.8" r=".55"/>
<circle class="pb" cx="651.9" cy="116.1" r=".55"/>
<circle class="pb" cx="652.3" cy="96.5" r=".55"/>
<circle class="pb" cx="648.7" cy="94.3" r=".55"/>
<circle class="pb" cx="648.8" cy="89.2" r=".55"/>
<circle class="pb" cx="652.1" cy="128.2" r=".55"/>
<circle class="pb" cx="651.3" cy="110.3" r=".55"/>
<circle class="pb" cx="650.5" cy="115.8" r=".55"/>
<circle class="pb" cx="652.0" cy="97.1" r=".55"/>
<circle class="pb" cx="650.9" cy="101.8" r=".55"/>
<circle class="pb" cx="650.7" cy="85.7" r=".55"/>
<circle class="pb" cx="652.3" cy="85.7" r=".55"/>
<circle class="pb" cx="650.3" cy="114.8" r=".55"/>
<circle class="pb" cx="651.5" cy="98.5" r=".55"/>
<circle class="pb" cx="648.4" cy="102.9" r=".55"/>
<circle class="pb" cx="650.4" cy="88.7" r=".55"/>
<circle class="pb" cx="650.6" cy="79.2" r=".55"/>
<circle class="pb" cx="650.8" cy="120.7" r=".55"/>
<circle class="pb" cx="651.8" cy="88.7" r=".55"/>
<circle class="pb" cx="651.5" cy="117.0" r=".55"/>
<circle class="pb" cx="651.2" cy="90.4" r=".55"/>
<circle class="pb" cx="650.3" cy="102.9" r=".55"/>
<circle class="pb" cx="649.9" cy="103.6" r=".55"/>
<circle class="pb" cx="648.8" cy="101.5" r=".55"/>
<circle class="pb" cx="650.3" cy="119.3" r=".55"/>
<circle class="pb" cx="650.2" cy="105.2" r=".55"/>
<circle class="pb" cx="650.3" cy="119.9" r=".55"/>
<circle class="pb" cx="651.4" cy="104.7" r=".55"/>
<circle class="pb" cx="650.9" cy="98.0" r=".55"/>
<circle class="pb" cx="649.4" cy="96.0" r=".55"/>
<circle class="pb" cx="651.6" cy="104.3" r=".55"/>
<circle class="pb" cx="648.3" cy="108.5" r=".55"/>
<circle class="pb" cx="651.4" cy="113.9" r=".55"/>
<circle class="pb" cx="651.8" cy="111.1" r=".55"/>
<circle class="po" cx="668.6" cy="150.1" r=".55"/>
<circle class="po" cx="666.8" cy="160.0" r=".55"/>
<circle class="po" cx="667.0" cy="122.0" r=".55"/>
<circle class="po" cx="670.2" cy="152.1" r=".55"/>
<circle class="po" cx="668.1" cy="148.1" r=".55"/>
<circle class="po" cx="668.0" cy="164.4" r=".55"/>
<circle class="po" cx="670.4" cy="152.4" r=".55"/>
<circle class="po" cx="669.0" cy="136.2" r=".55"/>
<circle class="po" cx="668.9" cy="137.8" r=".55"/>
<circle class="po" cx="667.0" cy="165.8" r=".55"/>
<circle class="po" cx="669.5" cy="130.3" r=".55"/>
<circle class="po" cx="667.2" cy="113.8" r=".55"/>
<circle class="po" cx="668.0" cy="138.2" r=".55"/>
<circle class="po" cx="667.4" cy="159.8" r=".55"/>
<circle class="po" cx="667.9" cy="164.0" r=".55"/>
<circle class="po" cx="668.5" cy="160.0" r=".55"/>
<circle class="po" cx="668.9" cy="164.3" r=".55"/>
<circle class="po" cx="667.0" cy="142.2" r=".55"/>
<circle class="po" cx="669.0" cy="132.4" r=".55"/>
<circle class="po" cx="670.6" cy="131.9" r=".55"/>
<circle class="pb" cx="513.9" cy="49.9" r=".55"/>
<circle class="pb" cx="512.8" cy="62.3" r=".55"/>
<circle class="pb" cx="514.4" cy="65.0" r=".55"/>
<circle class="pb" cx="510.7" cy="74.7" r=".55"/>
<circle class="pb" cx="511.1" cy="78.4" r=".55"/>
<circle class="pb" cx="513.1" cy="80.5" r=".55"/>
<circle class="pb" cx="512.0" cy="82.4" r=".55"/>
<circle class="pb" cx="511.2" cy="85.6" r=".55"/>
<circle class="pb" cx="512.0" cy="87.9" r=".55"/>
<circle class="pb" cx="513.1" cy="89.5" r=".55"/>
<circle class="pb" cx="510.4" cy="94.3" r=".55"/>
<circle class="pb" cx="558.2" cy="44.8" r=".55"/>
<circle class="pb" cx="559.3" cy="51.4" r=".55"/>
<circle class="pb" cx="557.2" cy="53.2" r=".55"/>
<circle class="pb" cx="558.5" cy="57.8" r=".55"/>
<circle class="pb" cx="556.6" cy="59.6" r=".55"/>
<circle class="pb" cx="559.3" cy="63.9" r=".55"/>
<circle class="pb" cx="559.3" cy="67.8" r=".55"/>
<circle class="pb" cx="558.2" cy="72.3" r=".55"/>
<circle class="pb" cx="558.5" cy="74.2" r=".55"/>
<circle class="pb" cx="556.6" cy="78.4" r=".55"/>
<circle class="pb" cx="557.2" cy="83.2" r=".55"/>
<circle class="pb" cx="605.9" cy="40.3" r=".55"/>
<circle class="pb" cx="604.7" cy="51.5" r=".55"/>
<circle class="pb" cx="605.1" cy="55.5" r=".55"/>
<circle class="pb" cx="603.9" cy="57.8" r=".55"/>
<circle class="pb" cx="602.3" cy="60.2" r=".55"/>
<circle class="pb" cx="603.1" cy="63.4" r=".55"/>
<circle class="pb" cx="602.3" cy="63.6" r=".55"/>
<circle class="pb" cx="605.0" cy="68.1" r=".55"/>
<circle class="pb" cx="602.3" cy="73.1" r=".55"/>
<circle class="pb" cx="601.8" cy="77.9" r=".55"/>
<circle class="pb" cx="649.2" cy="42.7" r=".55"/>
<circle class="pb" cx="649.2" cy="52.3" r=".55"/>
<circle class="pb" cx="649.6" cy="58.6" r=".55"/>
<circle class="pb" cx="649.2" cy="61.0" r=".55"/>
<circle class="pb" cx="649.2" cy="66.5" r=".55"/>
<circle class="pb" cx="650.4" cy="69.6" r=".55"/>
<circle class="pb" cx="648.5" cy="77.1" r=".55"/>
<circle class="pb" cx="512.6" cy="142.4" r=".55"/>
<circle class="pb" cx="509.9" cy="143.9" r=".55"/>
<circle class="pb" cx="511.5" cy="150.3" r=".55"/>
<circle class="pb" cx="510.7" cy="176.0" r=".55"/>
<circle class="pb" cx="557.2" cy="135.5" r=".55"/>
<circle class="pb" cx="558.2" cy="138.7" r=".55"/>
<circle class="pb" cx="559.8" cy="141.9" r=".55"/>
<circle class="pb" cx="558.2" cy="154.3" r=".55"/>
<circle class="pb" cx="559.6" cy="165.4" r=".55"/>
<circle class="pb" cx="603.1" cy="133.6" r=".55"/>
<circle class="pb" cx="603.9" cy="136.0" r=".55"/>
<circle class="pb" cx="603.9" cy="143.9" r=".55"/>
<circle class="pb" cx="603.4" cy="133.6" r=".55"/>
<circle class="pb" cx="604.3" cy="136.5" r=".55"/>
<circle class="pb" cx="604.7" cy="143.1" r=".55"/>
<circle class="pb" cx="604.3" cy="171.5" r=".55"/>
<circle class="pb" cx="649.2" cy="133.6" r=".55"/>
<circle class="pb" cx="650.5" cy="142.8" r=".55"/>
<circle class="pb" cx="650.0" cy="146.0" r=".55"/>
<circle class="pb" cx="648.0" cy="162.3" r=".55"/>
<circle class="po" cx="532.6" cy="56.7" r=".55"/>
<circle class="po" cx="531.0" cy="59.9" r=".55"/>
<circle class="po" cx="531.4" cy="67.0" r=".55"/>
<circle class="po" cx="530.6" cy="68.6" r=".55"/>
<circle class="po" cx="531.9" cy="71.3" r=".55"/>
<circle class="po" cx="532.2" cy="74.2" r=".55"/>
<circle class="po" cx="532.2" cy="77.9" r=".55"/>
<circle class="po" cx="532.7" cy="82.1" r=".55"/>
<circle class="po" cx="576.8" cy="63.9" r=".55"/>
<circle class="po" cx="575.7" cy="68.6" r=".55"/>
<circle class="po" cx="578.1" cy="70.2" r=".55"/>
<circle class="po" cx="576.3" cy="82.1" r=".55"/>
<circle class="po" cx="575.7" cy="85.9" r=".55"/>
<circle class="po" cx="578.1" cy="85.6" r=".55"/>
<circle class="po" cx="578.4" cy="87.9" r=".55"/>
<circle class="po" cx="577.3" cy="90.3" r=".55"/>
<circle class="po" cx="576.8" cy="95.9" r=".55"/>
<circle class="po" cx="620.9" cy="77.1" r=".55"/>
<circle class="po" cx="624.6" cy="82.7" r=".55"/>
<circle class="po" cx="622.2" cy="86.7" r=".55"/>
<circle class="po" cx="623.8" cy="85.9" r=".55"/>
<circle class="po" cx="623.0" cy="89.9" r=".55"/>
<circle class="po" cx="623.8" cy="93.8" r=".55"/>
<circle class="po" cx="621.9" cy="96.2" r=".55"/>
<circle class="po" cx="667.6" cy="66.8" r=".55"/>
<circle class="po" cx="667.1" cy="69.2" r=".55"/>
<circle class="po" cx="670.7" cy="72.4" r=".55"/>
<circle class="po" cx="669.6" cy="78.7" r=".55"/>
<circle class="po" cx="669.2" cy="81.1" r=".55"/>
<circle class="po" cx="668.8" cy="89.1" r=".55"/>
<circle class="po" cx="669.9" cy="95.4" r=".55"/>
<circle class="po" cx="668.0" cy="99.4" r=".55"/>
<circle class="po" cx="532.2" cy="135.2" r=".55"/>
<circle class="po" cx="531.4" cy="140.8" r=".55"/>
<circle class="po" cx="531.4" cy="146.3" r=".55"/>
<circle class="po" cx="531.8" cy="148.7" r=".55"/>
<circle class="po" cx="532.2" cy="152.4" r=".55"/>
<circle class="po" cx="532.7" cy="161.1" r=".55"/>
<circle class="po" cx="529.5" cy="176.0" r=".55"/>
<circle class="po" cx="577.6" cy="142.8" r=".55"/>
<circle class="po" cx="576.3" cy="147.1" r=".55"/>
<circle class="po" cx="578.1" cy="149.2" r=".55"/>
<circle class="po" cx="578.4" cy="153.5" r=".55"/>
<circle class="po" cx="575.5" cy="156.2" r=".55"/>
<circle class="po" cx="577.6" cy="163.1" r=".55"/>
<circle class="po" cx="576.8" cy="167.8" r=".55"/>
<circle class="po" cx="621.4" cy="152.7" r=".55"/>
<circle class="po" cx="622.7" cy="157.5" r=".55"/>
<circle class="po" cx="621.4" cy="161.5" r=".55"/>
<circle class="po" cx="623.3" cy="166.2" r=".55"/>
<circle class="po" cx="621.1" cy="173.6" r=".55"/>
<circle class="po" cx="621.7" cy="186.3" r=".55"/>
<circle class="po" cx="670.3" cy="161.5" r=".55"/>
<circle class="po" cx="669.2" cy="169.4" r=".55"/>
<circle class="po" cx="670.0" cy="175.2" r=".55"/>
<circle class="po" cx="670.0" cy="197.0" r=".55"/>
<rect x="498.5" y="10.5" width="184.0" height="218.0" fill="none" stroke="#333" stroke-width="0.6"/>
<text x="495.8" y="215.87" font-size="6.0" font-weight="bold" text-anchor="end" fill="#1a1a1a">6</text>
<text x="495.8" y="184.33" font-size="6.0" font-weight="bold" text-anchor="end" fill="#1a1a1a">8</text>
<text x="495.8" y="152.79" font-size="6.0" font-weight="bold" text-anchor="end" fill="#1a1a1a">10</text>
<text x="495.8" y="121.25" font-size="6.0" font-weight="bold" text-anchor="end" fill="#1a1a1a">12</text>
<text x="495.8" y="89.71" font-size="6.0" font-weight="bold" text-anchor="end" fill="#1a1a1a">14</text>
<text x="495.8" y="58.17" font-size="6.0" font-weight="bold" text-anchor="end" fill="#1a1a1a">16</text>
<text x="495.8" y="26.63" font-size="6.0" font-weight="bold" text-anchor="end" fill="#1a1a1a">18</text>
<text x="521.6" y="235.75" font-size="6.0" font-weight="bold" text-anchor="middle" fill="#1a1a1a">1</text>
<text x="567.6" y="235.75" font-size="6.0" font-weight="bold" text-anchor="middle" fill="#1a1a1a">2</text>
<text x="613.6" y="235.75" font-size="6.0" font-weight="bold" text-anchor="middle" fill="#1a1a1a">3</text>
<text x="659.6" y="235.75" font-size="6.0" font-weight="bold" text-anchor="middle" fill="#1a1a1a">4</text>
<text x="590.2" y="242.7" font-size="6.2" font-weight="bold" text-anchor="middle" fill="#1a1a1a">Week</text>
<text x="485.5" y="119.6" font-size="6.2" font-weight="bold" text-anchor="middle" fill="#1a1a1a" transform="rotate(-90 485.5 119.6)">RPE score</text>
<text x="590.3" y="7.9" font-size="7.1" font-weight="bold" text-anchor="middle" fill="#1a1a1a">C) Weekly Borg RPE Scores</text>
<rect x="630.4" y="15.1" width="11" height="3.8" fill="#3274a1" stroke="#3d3d3d" stroke-width="0.4"/>
<rect x="630.4" y="23.0" width="11" height="3.8" fill="#e1812c" stroke="#3d3d3d" stroke-width="0.4"/>
<text x="645.4" y="19.05" font-size="6.0" stroke="#1a1a1a" stroke-width="0.12" text-anchor="start" fill="#1a1a1a">Control</text>
<text x="645.4" y="26.95" font-size="6.0" stroke="#1a1a1a" stroke-width="0.12" text-anchor="start" fill="#1a1a1a">Intervention</text>
</svg>
</body></html>
